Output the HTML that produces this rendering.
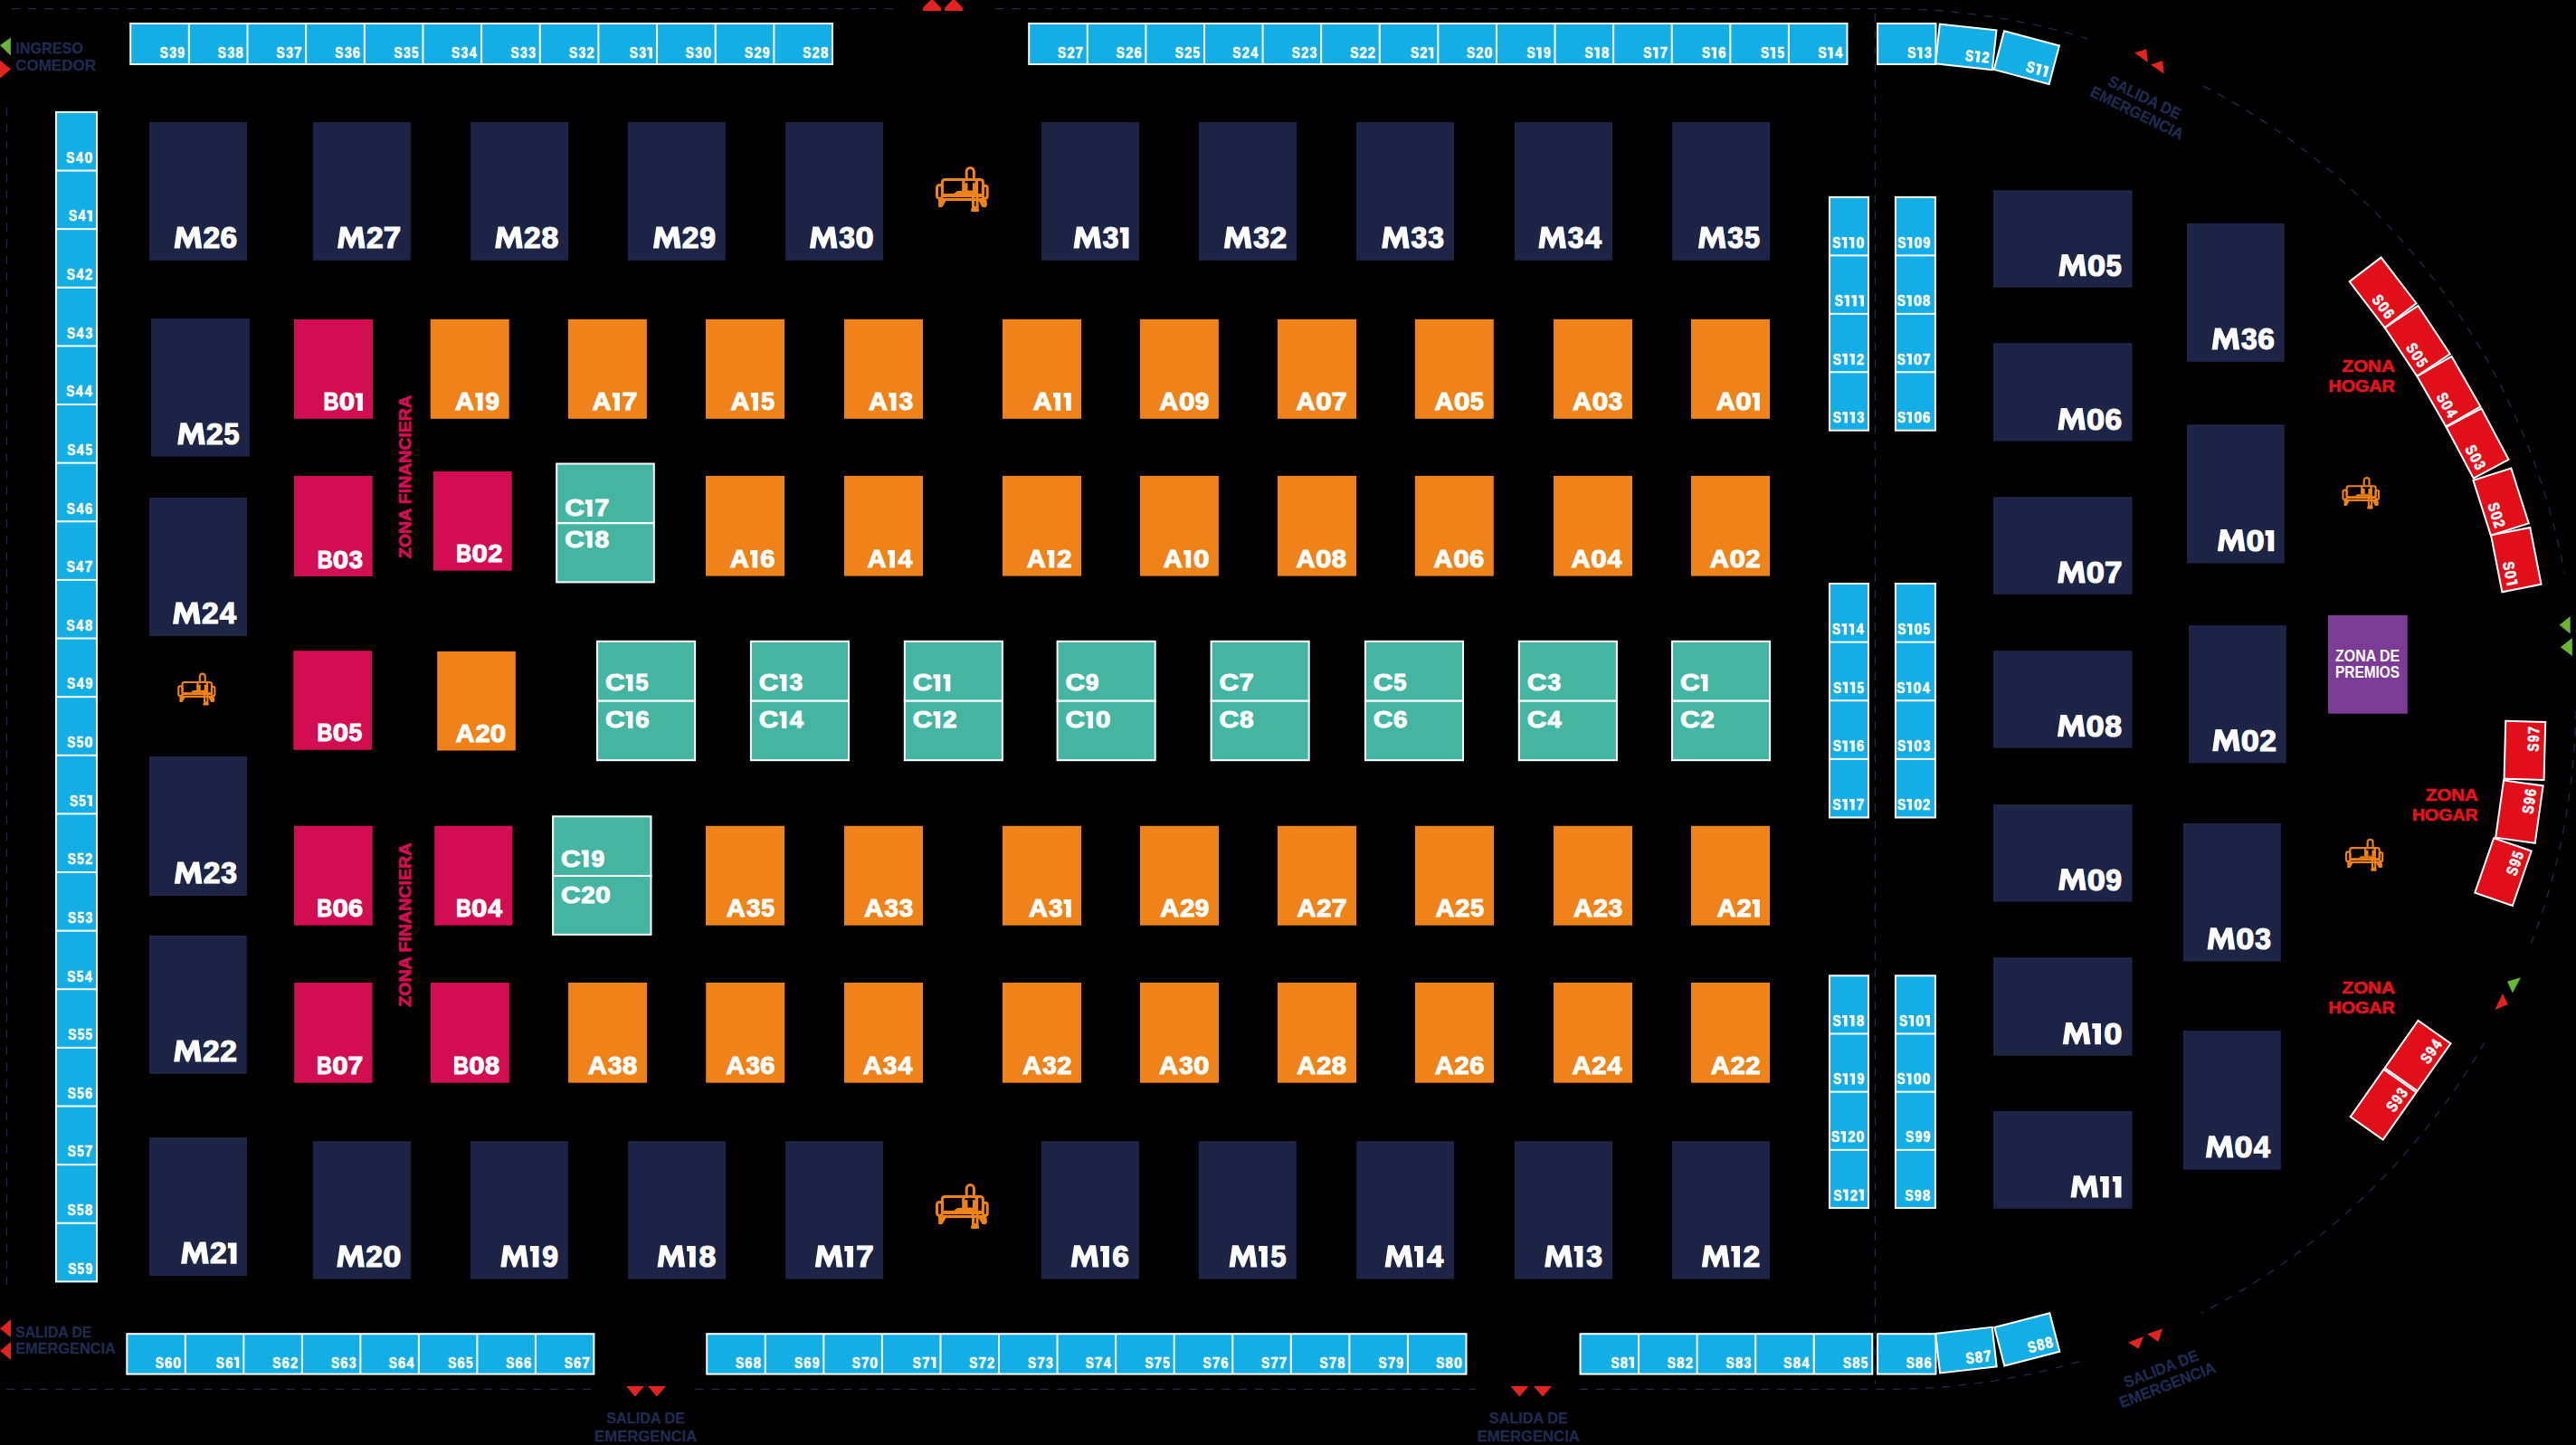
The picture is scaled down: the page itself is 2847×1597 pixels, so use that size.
<!DOCTYPE html>
<html><head><meta charset="utf-8"><style>
html,body{margin:0;padding:0;background:#000;width:2847px;height:1597px;overflow:hidden}
svg{display:block}
text{font-family:"Liberation Sans", sans-serif;font-weight:bold}
</style></head><body>
<svg width="2847" height="1597" viewBox="0 0 2847 1597">
<rect width="2847" height="1597" fill="#000"/>
<line x1="13" y1="9.5" x2="987" y2="9.5" stroke="#1F2A4D" stroke-width="1.25" stroke-dasharray="9.1 9.1" fill="none"/>
<line x1="1100" y1="9.5" x2="2084" y2="9.5" stroke="#1F2A4D" stroke-width="1.25" stroke-dasharray="9.1 9.1" fill="none"/>
<line x1="7.5" y1="119" x2="7.5" y2="1421" stroke="#1F2A4D" stroke-width="1.25" stroke-dasharray="9.1 9.1" fill="none"/>
<line x1="7" y1="1535.3" x2="653" y2="1535.3" stroke="#1F2A4D" stroke-width="1.25" stroke-dasharray="9.1 9.1" fill="none"/>
<line x1="768" y1="1535.3" x2="1631" y2="1535.3" stroke="#1F2A4D" stroke-width="1.25" stroke-dasharray="9.1 9.1" fill="none"/>
<line x1="1746" y1="1535.3" x2="2084" y2="1535.3" stroke="#1F2A4D" stroke-width="1.25" stroke-dasharray="9.1 9.1" fill="none"/>
<line x1="2072.4" y1="15" x2="2072.4" y2="1530" stroke="#1F2A4D" stroke-width="1.25" stroke-dasharray="9.1 9.1" fill="none"/>
<path d="M2084.0,9.5 A763,763 0 0 1 2307.1,42.8" stroke="#1F2A4D" stroke-width="1.25" stroke-dasharray="9.1 9.1" fill="none"/>
<path d="M2435.1,95.1 A763,763 0 0 1 2834.2,633.5" stroke="#1F2A4D" stroke-width="1.25" stroke-dasharray="9.1 9.1" fill="none"/>
<path d="M2846.9,785.8 A763,763 0 0 1 2797.7,1042.2" stroke="#1F2A4D" stroke-width="1.25" stroke-dasharray="9.1 9.1" fill="none"/>
<path d="M2746.1,1151.7 A763,763 0 0 1 2432.8,1451.1" stroke="#1F2A4D" stroke-width="1.25" stroke-dasharray="9.1 9.1" fill="none"/>
<path d="M2298.1,1504.8 A763,763 0 0 1 2084.0,1535.5" stroke="#1F2A4D" stroke-width="1.25" stroke-dasharray="9.1 9.1" fill="none"/>
<rect x="143.2" y="25.0" width="777.8" height="47.0" fill="#FFFFFF"/>
<rect x="145.20" y="27.0" width="62.65" height="43.0" fill="#12AEE5"/>
<g font-size="17.16" fill="#FFFFFF" stroke="#FFFFFF" stroke-width="0.60"><text x="176.73" y="64.10" textLength="9.08" lengthAdjust="spacingAndGlyphs">S</text><text x="187.24" y="64.10" textLength="7.70" lengthAdjust="spacingAndGlyphs">3</text><text x="196.24" y="64.10" textLength="7.72" lengthAdjust="spacingAndGlyphs">9</text></g>
<rect x="209.85" y="27.0" width="62.65" height="43.0" fill="#12AEE5"/>
<g font-size="17.16" fill="#FFFFFF" stroke="#FFFFFF" stroke-width="0.60"><text x="240.86" y="64.10" textLength="9.08" lengthAdjust="spacingAndGlyphs">S</text><text x="251.38" y="64.10" textLength="7.70" lengthAdjust="spacingAndGlyphs">3</text><text x="260.39" y="64.10" textLength="8.16" lengthAdjust="spacingAndGlyphs">8</text></g>
<rect x="274.50" y="27.0" width="62.65" height="43.0" fill="#12AEE5"/>
<g font-size="17.16" fill="#FFFFFF" stroke="#FFFFFF" stroke-width="0.60"><text x="305.62" y="64.10" textLength="9.08" lengthAdjust="spacingAndGlyphs">S</text><text x="316.13" y="64.10" textLength="7.70" lengthAdjust="spacingAndGlyphs">3</text><text x="324.96" y="64.10" textLength="8.46" lengthAdjust="spacingAndGlyphs">7</text></g>
<rect x="339.15" y="27.0" width="62.65" height="43.0" fill="#12AEE5"/>
<g font-size="17.16" fill="#FFFFFF" stroke="#FFFFFF" stroke-width="0.60"><text x="370.37" y="64.10" textLength="9.08" lengthAdjust="spacingAndGlyphs">S</text><text x="380.88" y="64.10" textLength="7.70" lengthAdjust="spacingAndGlyphs">3</text><text x="389.83" y="64.10" textLength="8.10" lengthAdjust="spacingAndGlyphs">6</text></g>
<rect x="403.80" y="27.0" width="62.65" height="43.0" fill="#12AEE5"/>
<g font-size="17.16" fill="#FFFFFF" stroke="#FFFFFF" stroke-width="0.60"><text x="435.43" y="64.10" textLength="9.08" lengthAdjust="spacingAndGlyphs">S</text><text x="445.95" y="64.10" textLength="7.70" lengthAdjust="spacingAndGlyphs">3</text><text x="455.02" y="64.10" textLength="7.40" lengthAdjust="spacingAndGlyphs">5</text></g>
<rect x="468.45" y="27.0" width="62.65" height="43.0" fill="#12AEE5"/>
<g font-size="17.16" fill="#FFFFFF" stroke="#FFFFFF" stroke-width="0.60"><text x="499.05" y="64.10" textLength="9.08" lengthAdjust="spacingAndGlyphs">S</text><text x="509.56" y="64.10" textLength="7.70" lengthAdjust="spacingAndGlyphs">3</text><text x="518.83" y="64.10" textLength="7.95" lengthAdjust="spacingAndGlyphs">4</text></g>
<rect x="533.10" y="27.0" width="62.65" height="43.0" fill="#12AEE5"/>
<g font-size="17.16" fill="#FFFFFF" stroke="#FFFFFF" stroke-width="0.60"><text x="564.47" y="64.10" textLength="9.08" lengthAdjust="spacingAndGlyphs">S</text><text x="574.99" y="64.10" textLength="7.70" lengthAdjust="spacingAndGlyphs">3</text><text x="584.15" y="64.10" textLength="7.70" lengthAdjust="spacingAndGlyphs">3</text></g>
<rect x="597.75" y="27.0" width="62.65" height="43.0" fill="#12AEE5"/>
<g font-size="17.16" fill="#FFFFFF" stroke="#FFFFFF" stroke-width="0.60"><text x="628.97" y="64.10" textLength="9.08" lengthAdjust="spacingAndGlyphs">S</text><text x="639.48" y="64.10" textLength="7.70" lengthAdjust="spacingAndGlyphs">3</text><text x="648.46" y="64.10" textLength="8.13" lengthAdjust="spacingAndGlyphs">2</text></g>
<rect x="662.40" y="27.0" width="62.65" height="43.0" fill="#12AEE5"/>
<g font-size="17.16" fill="#FFFFFF" stroke="#FFFFFF" stroke-width="0.60"><text x="695.74" y="64.10" textLength="9.08" lengthAdjust="spacingAndGlyphs">S</text><text x="706.25" y="64.10" textLength="7.70" lengthAdjust="spacingAndGlyphs">3</text><path stroke="none" d="M715.43,52.14H720.95V64.40H717.59V55.14H715.43Z"/></g>
<rect x="727.05" y="27.0" width="62.65" height="43.0" fill="#12AEE5"/>
<g font-size="17.16" fill="#FFFFFF" stroke="#FFFFFF" stroke-width="0.60"><text x="757.80" y="64.10" textLength="9.08" lengthAdjust="spacingAndGlyphs">S</text><text x="768.32" y="64.10" textLength="7.70" lengthAdjust="spacingAndGlyphs">3</text><text x="777.17" y="64.10" textLength="8.77" lengthAdjust="spacingAndGlyphs">0</text></g>
<rect x="791.70" y="27.0" width="62.65" height="43.0" fill="#12AEE5"/>
<g font-size="17.16" fill="#FFFFFF" stroke="#FFFFFF" stroke-width="0.60"><text x="823.07" y="64.10" textLength="9.08" lengthAdjust="spacingAndGlyphs">S</text><text x="833.40" y="64.10" textLength="8.13" lengthAdjust="spacingAndGlyphs">2</text><text x="842.74" y="64.10" textLength="7.72" lengthAdjust="spacingAndGlyphs">9</text></g>
<rect x="856.35" y="27.0" width="62.65" height="43.0" fill="#12AEE5"/>
<g font-size="17.16" fill="#FFFFFF" stroke="#FFFFFF" stroke-width="0.60"><text x="887.21" y="64.10" textLength="9.08" lengthAdjust="spacingAndGlyphs">S</text><text x="897.53" y="64.10" textLength="8.13" lengthAdjust="spacingAndGlyphs">2</text><text x="906.89" y="64.10" textLength="8.16" lengthAdjust="spacingAndGlyphs">8</text></g>
<rect x="1136.2" y="25.0" width="906.3" height="47.0" fill="#FFFFFF"/>
<rect x="1138.20" y="27.0" width="62.59" height="43.0" fill="#12AEE5"/>
<g font-size="17.16" fill="#FFFFFF" stroke="#FFFFFF" stroke-width="0.60"><text x="1169.10" y="64.10" textLength="9.08" lengthAdjust="spacingAndGlyphs">S</text><text x="1179.43" y="64.10" textLength="8.13" lengthAdjust="spacingAndGlyphs">2</text><text x="1188.60" y="64.10" textLength="8.46" lengthAdjust="spacingAndGlyphs">7</text></g>
<rect x="1202.79" y="27.0" width="62.59" height="43.0" fill="#12AEE5"/>
<g font-size="17.16" fill="#FFFFFF" stroke="#FFFFFF" stroke-width="0.60"><text x="1233.80" y="64.10" textLength="9.08" lengthAdjust="spacingAndGlyphs">S</text><text x="1244.13" y="64.10" textLength="8.13" lengthAdjust="spacingAndGlyphs">2</text><text x="1253.42" y="64.10" textLength="8.10" lengthAdjust="spacingAndGlyphs">6</text></g>
<rect x="1267.39" y="27.0" width="62.59" height="43.0" fill="#12AEE5"/>
<g font-size="17.16" fill="#FFFFFF" stroke="#FFFFFF" stroke-width="0.60"><text x="1298.81" y="64.10" textLength="9.08" lengthAdjust="spacingAndGlyphs">S</text><text x="1309.13" y="64.10" textLength="8.13" lengthAdjust="spacingAndGlyphs">2</text><text x="1318.55" y="64.10" textLength="7.40" lengthAdjust="spacingAndGlyphs">5</text></g>
<rect x="1331.98" y="27.0" width="62.59" height="43.0" fill="#12AEE5"/>
<g font-size="17.16" fill="#FFFFFF" stroke="#FFFFFF" stroke-width="0.60"><text x="1362.37" y="64.10" textLength="9.08" lengthAdjust="spacingAndGlyphs">S</text><text x="1372.69" y="64.10" textLength="8.13" lengthAdjust="spacingAndGlyphs">2</text><text x="1382.30" y="64.10" textLength="7.95" lengthAdjust="spacingAndGlyphs">4</text></g>
<rect x="1396.57" y="27.0" width="62.59" height="43.0" fill="#12AEE5"/>
<g font-size="17.16" fill="#FFFFFF" stroke="#FFFFFF" stroke-width="0.60"><text x="1427.73" y="64.10" textLength="9.08" lengthAdjust="spacingAndGlyphs">S</text><text x="1438.06" y="64.10" textLength="8.13" lengthAdjust="spacingAndGlyphs">2</text><text x="1447.56" y="64.10" textLength="7.70" lengthAdjust="spacingAndGlyphs">3</text></g>
<rect x="1461.16" y="27.0" width="62.59" height="43.0" fill="#12AEE5"/>
<g font-size="17.16" fill="#FFFFFF" stroke="#FFFFFF" stroke-width="0.60"><text x="1492.17" y="64.10" textLength="9.08" lengthAdjust="spacingAndGlyphs">S</text><text x="1502.50" y="64.10" textLength="8.13" lengthAdjust="spacingAndGlyphs">2</text><text x="1511.81" y="64.10" textLength="8.13" lengthAdjust="spacingAndGlyphs">2</text></g>
<rect x="1525.76" y="27.0" width="62.59" height="43.0" fill="#12AEE5"/>
<g font-size="17.16" fill="#FFFFFF" stroke="#FFFFFF" stroke-width="0.60"><text x="1558.88" y="64.10" textLength="9.08" lengthAdjust="spacingAndGlyphs">S</text><text x="1569.21" y="64.10" textLength="8.13" lengthAdjust="spacingAndGlyphs">2</text><path stroke="none" d="M1578.73,52.14H1584.25V64.40H1580.89V55.14H1578.73Z"/></g>
<rect x="1590.35" y="27.0" width="62.59" height="43.0" fill="#12AEE5"/>
<g font-size="17.16" fill="#FFFFFF" stroke="#FFFFFF" stroke-width="0.60"><text x="1620.89" y="64.10" textLength="9.08" lengthAdjust="spacingAndGlyphs">S</text><text x="1631.22" y="64.10" textLength="8.13" lengthAdjust="spacingAndGlyphs">2</text><text x="1640.42" y="64.10" textLength="8.77" lengthAdjust="spacingAndGlyphs">0</text></g>
<rect x="1654.94" y="27.0" width="62.59" height="43.0" fill="#12AEE5"/>
<g font-size="17.16" fill="#FFFFFF" stroke="#FFFFFF" stroke-width="0.60"><text x="1687.54" y="64.10" textLength="9.08" lengthAdjust="spacingAndGlyphs">S</text><path stroke="none" d="M1698.07,52.14H1703.59V64.40H1700.23V55.14H1698.07Z"/><text x="1705.93" y="64.10" textLength="7.72" lengthAdjust="spacingAndGlyphs">9</text></g>
<rect x="1719.54" y="27.0" width="62.59" height="43.0" fill="#12AEE5"/>
<g font-size="17.16" fill="#FFFFFF" stroke="#FFFFFF" stroke-width="0.60"><text x="1751.61" y="64.10" textLength="9.08" lengthAdjust="spacingAndGlyphs">S</text><path stroke="none" d="M1762.15,52.14H1767.67V64.40H1764.31V55.14H1762.15Z"/><text x="1770.02" y="64.10" textLength="8.16" lengthAdjust="spacingAndGlyphs">8</text></g>
<rect x="1784.13" y="27.0" width="62.59" height="43.0" fill="#12AEE5"/>
<g font-size="17.16" fill="#FFFFFF" stroke="#FFFFFF" stroke-width="0.60"><text x="1816.31" y="64.10" textLength="9.08" lengthAdjust="spacingAndGlyphs">S</text><path stroke="none" d="M1826.84,52.14H1832.36V64.40H1829.00V55.14H1826.84Z"/><text x="1834.53" y="64.10" textLength="8.46" lengthAdjust="spacingAndGlyphs">7</text></g>
<rect x="1848.72" y="27.0" width="62.59" height="43.0" fill="#12AEE5"/>
<g font-size="17.16" fill="#FFFFFF" stroke="#FFFFFF" stroke-width="0.60"><text x="1881.01" y="64.10" textLength="9.08" lengthAdjust="spacingAndGlyphs">S</text><path stroke="none" d="M1891.54,52.14H1897.06V64.40H1893.70V55.14H1891.54Z"/><text x="1899.34" y="64.10" textLength="8.10" lengthAdjust="spacingAndGlyphs">6</text></g>
<rect x="1913.31" y="27.0" width="62.59" height="43.0" fill="#12AEE5"/>
<g font-size="17.16" fill="#FFFFFF" stroke="#FFFFFF" stroke-width="0.60"><text x="1946.01" y="64.10" textLength="9.08" lengthAdjust="spacingAndGlyphs">S</text><path stroke="none" d="M1956.54,52.14H1962.06V64.40H1958.70V55.14H1956.54Z"/><text x="1964.47" y="64.10" textLength="7.40" lengthAdjust="spacingAndGlyphs">5</text></g>
<rect x="1977.91" y="27.0" width="62.59" height="43.0" fill="#12AEE5"/>
<g font-size="17.16" fill="#FFFFFF" stroke="#FFFFFF" stroke-width="0.60"><text x="2009.57" y="64.10" textLength="9.08" lengthAdjust="spacingAndGlyphs">S</text><path stroke="none" d="M2020.10,52.14H2025.62V64.40H2022.26V55.14H2020.10Z"/><text x="2028.23" y="64.10" textLength="7.95" lengthAdjust="spacingAndGlyphs">4</text></g>
<rect x="2074.1" y="25.0" width="66.4" height="47.0" fill="#FFFFFF"/>
<rect x="2076.10" y="27.0" width="62.40" height="43.0" fill="#12AEE5"/>
<g font-size="17.16" fill="#FFFFFF" stroke="#FFFFFF" stroke-width="0.60"><text x="2108.35" y="64.10" textLength="9.08" lengthAdjust="spacingAndGlyphs">S</text><path stroke="none" d="M2118.88,52.14H2124.40V64.40H2121.04V55.14H2118.88Z"/><text x="2126.90" y="64.10" textLength="7.70" lengthAdjust="spacingAndGlyphs">3</text></g>
<rect x="61.0" y="122.9" width="47.0" height="1294.5" fill="#FFFFFF"/>
<rect x="63.0" y="124.90" width="43.0" height="62.62" fill="#12AEE5"/>
<g font-size="17.16" fill="#FFFFFF" stroke="#FFFFFF" stroke-width="0.60"><text x="73.33" y="179.82" textLength="9.08" lengthAdjust="spacingAndGlyphs">S</text><text x="83.95" y="179.82" textLength="7.95" lengthAdjust="spacingAndGlyphs">4</text><text x="93.47" y="179.82" textLength="8.77" lengthAdjust="spacingAndGlyphs">0</text></g>
<rect x="63.0" y="189.53" width="43.0" height="62.62" fill="#12AEE5"/>
<g font-size="17.16" fill="#FFFFFF" stroke="#FFFFFF" stroke-width="0.60"><text x="75.91" y="244.45" textLength="9.08" lengthAdjust="spacingAndGlyphs">S</text><text x="86.53" y="244.45" textLength="7.95" lengthAdjust="spacingAndGlyphs">4</text><path stroke="none" d="M96.38,232.49H101.90V244.75H98.54V235.49H96.38Z"/></g>
<rect x="63.0" y="254.15" width="43.0" height="62.62" fill="#12AEE5"/>
<g font-size="17.16" fill="#FFFFFF" stroke="#FFFFFF" stroke-width="0.60"><text x="73.79" y="309.07" textLength="9.08" lengthAdjust="spacingAndGlyphs">S</text><text x="84.41" y="309.07" textLength="7.95" lengthAdjust="spacingAndGlyphs">4</text><text x="94.06" y="309.07" textLength="8.13" lengthAdjust="spacingAndGlyphs">2</text></g>
<rect x="63.0" y="318.77" width="43.0" height="62.62" fill="#12AEE5"/>
<g font-size="17.16" fill="#FFFFFF" stroke="#FFFFFF" stroke-width="0.60"><text x="73.95" y="373.70" textLength="9.08" lengthAdjust="spacingAndGlyphs">S</text><text x="84.57" y="373.70" textLength="7.95" lengthAdjust="spacingAndGlyphs">4</text><text x="94.40" y="373.70" textLength="7.70" lengthAdjust="spacingAndGlyphs">3</text></g>
<rect x="63.0" y="383.40" width="43.0" height="62.62" fill="#12AEE5"/>
<g font-size="17.16" fill="#FFFFFF" stroke="#FFFFFF" stroke-width="0.60"><text x="73.18" y="438.32" textLength="9.08" lengthAdjust="spacingAndGlyphs">S</text><text x="83.79" y="438.32" textLength="7.95" lengthAdjust="spacingAndGlyphs">4</text><text x="93.73" y="438.32" textLength="7.95" lengthAdjust="spacingAndGlyphs">4</text></g>
<rect x="63.0" y="448.02" width="43.0" height="62.62" fill="#12AEE5"/>
<g font-size="17.16" fill="#FFFFFF" stroke="#FFFFFF" stroke-width="0.60"><text x="74.21" y="502.95" textLength="9.08" lengthAdjust="spacingAndGlyphs">S</text><text x="84.82" y="502.95" textLength="7.95" lengthAdjust="spacingAndGlyphs">4</text><text x="94.57" y="502.95" textLength="7.40" lengthAdjust="spacingAndGlyphs">5</text></g>
<rect x="63.0" y="512.65" width="43.0" height="62.62" fill="#12AEE5"/>
<g font-size="17.16" fill="#FFFFFF" stroke="#FFFFFF" stroke-width="0.60"><text x="73.79" y="567.58" textLength="9.08" lengthAdjust="spacingAndGlyphs">S</text><text x="84.41" y="567.58" textLength="7.95" lengthAdjust="spacingAndGlyphs">4</text><text x="94.03" y="567.58" textLength="8.10" lengthAdjust="spacingAndGlyphs">6</text></g>
<rect x="63.0" y="577.27" width="43.0" height="62.62" fill="#12AEE5"/>
<g font-size="17.16" fill="#FFFFFF" stroke="#FFFFFF" stroke-width="0.60"><text x="73.69" y="632.20" textLength="9.08" lengthAdjust="spacingAndGlyphs">S</text><text x="84.31" y="632.20" textLength="7.95" lengthAdjust="spacingAndGlyphs">4</text><text x="93.81" y="632.20" textLength="8.46" lengthAdjust="spacingAndGlyphs">7</text></g>
<rect x="63.0" y="641.90" width="43.0" height="62.62" fill="#12AEE5"/>
<g font-size="17.16" fill="#FFFFFF" stroke="#FFFFFF" stroke-width="0.60"><text x="73.59" y="696.83" textLength="9.08" lengthAdjust="spacingAndGlyphs">S</text><text x="84.20" y="696.83" textLength="7.95" lengthAdjust="spacingAndGlyphs">4</text><text x="93.89" y="696.83" textLength="8.16" lengthAdjust="spacingAndGlyphs">8</text></g>
<rect x="63.0" y="706.52" width="43.0" height="62.62" fill="#12AEE5"/>
<g font-size="17.16" fill="#FFFFFF" stroke="#FFFFFF" stroke-width="0.60"><text x="74.10" y="761.45" textLength="9.08" lengthAdjust="spacingAndGlyphs">S</text><text x="84.72" y="761.45" textLength="7.95" lengthAdjust="spacingAndGlyphs">4</text><text x="94.39" y="761.45" textLength="7.72" lengthAdjust="spacingAndGlyphs">9</text></g>
<rect x="63.0" y="771.15" width="43.0" height="62.62" fill="#12AEE5"/>
<g font-size="17.16" fill="#FFFFFF" stroke="#FFFFFF" stroke-width="0.60"><text x="74.36" y="826.08" textLength="9.08" lengthAdjust="spacingAndGlyphs">S</text><text x="84.79" y="826.08" textLength="7.40" lengthAdjust="spacingAndGlyphs">5</text><text x="93.47" y="826.08" textLength="8.77" lengthAdjust="spacingAndGlyphs">0</text></g>
<rect x="63.0" y="835.77" width="43.0" height="62.62" fill="#12AEE5"/>
<g font-size="17.16" fill="#FFFFFF" stroke="#FFFFFF" stroke-width="0.60"><text x="76.94" y="890.70" textLength="9.08" lengthAdjust="spacingAndGlyphs">S</text><text x="87.37" y="890.70" textLength="7.40" lengthAdjust="spacingAndGlyphs">5</text><path stroke="none" d="M96.38,878.74H101.90V891.00H98.54V881.74H96.38Z"/></g>
<rect x="63.0" y="900.40" width="43.0" height="62.62" fill="#12AEE5"/>
<g font-size="17.16" fill="#FFFFFF" stroke="#FFFFFF" stroke-width="0.60"><text x="74.83" y="955.33" textLength="9.08" lengthAdjust="spacingAndGlyphs">S</text><text x="85.25" y="955.33" textLength="7.40" lengthAdjust="spacingAndGlyphs">5</text><text x="94.06" y="955.33" textLength="8.13" lengthAdjust="spacingAndGlyphs">2</text></g>
<rect x="63.0" y="965.02" width="43.0" height="62.62" fill="#12AEE5"/>
<g font-size="17.16" fill="#FFFFFF" stroke="#FFFFFF" stroke-width="0.60"><text x="74.98" y="1019.95" textLength="9.08" lengthAdjust="spacingAndGlyphs">S</text><text x="85.40" y="1019.95" textLength="7.40" lengthAdjust="spacingAndGlyphs">5</text><text x="94.40" y="1019.95" textLength="7.70" lengthAdjust="spacingAndGlyphs">3</text></g>
<rect x="63.0" y="1029.65" width="43.0" height="62.62" fill="#12AEE5"/>
<g font-size="17.16" fill="#FFFFFF" stroke="#FFFFFF" stroke-width="0.60"><text x="74.21" y="1084.58" textLength="9.08" lengthAdjust="spacingAndGlyphs">S</text><text x="84.63" y="1084.58" textLength="7.40" lengthAdjust="spacingAndGlyphs">5</text><text x="93.73" y="1084.58" textLength="7.95" lengthAdjust="spacingAndGlyphs">4</text></g>
<rect x="63.0" y="1094.28" width="43.0" height="62.62" fill="#12AEE5"/>
<g font-size="17.16" fill="#FFFFFF" stroke="#FFFFFF" stroke-width="0.60"><text x="75.24" y="1149.20" textLength="9.08" lengthAdjust="spacingAndGlyphs">S</text><text x="85.66" y="1149.20" textLength="7.40" lengthAdjust="spacingAndGlyphs">5</text><text x="94.57" y="1149.20" textLength="7.40" lengthAdjust="spacingAndGlyphs">5</text></g>
<rect x="63.0" y="1158.90" width="43.0" height="62.62" fill="#12AEE5"/>
<g font-size="17.16" fill="#FFFFFF" stroke="#FFFFFF" stroke-width="0.60"><text x="74.83" y="1213.83" textLength="9.08" lengthAdjust="spacingAndGlyphs">S</text><text x="85.25" y="1213.83" textLength="7.40" lengthAdjust="spacingAndGlyphs">5</text><text x="94.03" y="1213.83" textLength="8.10" lengthAdjust="spacingAndGlyphs">6</text></g>
<rect x="63.0" y="1223.53" width="43.0" height="62.62" fill="#12AEE5"/>
<g font-size="17.16" fill="#FFFFFF" stroke="#FFFFFF" stroke-width="0.60"><text x="74.72" y="1278.45" textLength="9.08" lengthAdjust="spacingAndGlyphs">S</text><text x="85.15" y="1278.45" textLength="7.40" lengthAdjust="spacingAndGlyphs">5</text><text x="93.81" y="1278.45" textLength="8.46" lengthAdjust="spacingAndGlyphs">7</text></g>
<rect x="63.0" y="1288.15" width="43.0" height="62.62" fill="#12AEE5"/>
<g font-size="17.16" fill="#FFFFFF" stroke="#FFFFFF" stroke-width="0.60"><text x="74.62" y="1343.08" textLength="9.08" lengthAdjust="spacingAndGlyphs">S</text><text x="85.04" y="1343.08" textLength="7.40" lengthAdjust="spacingAndGlyphs">5</text><text x="93.89" y="1343.08" textLength="8.16" lengthAdjust="spacingAndGlyphs">8</text></g>
<rect x="63.0" y="1352.78" width="43.0" height="62.62" fill="#12AEE5"/>
<g font-size="17.16" fill="#FFFFFF" stroke="#FFFFFF" stroke-width="0.60"><text x="75.14" y="1407.70" textLength="9.08" lengthAdjust="spacingAndGlyphs">S</text><text x="85.56" y="1407.70" textLength="7.40" lengthAdjust="spacingAndGlyphs">5</text><text x="94.39" y="1407.70" textLength="7.72" lengthAdjust="spacingAndGlyphs">9</text></g>
<rect x="139.3" y="1473.2" width="518.1" height="46.4" fill="#FFFFFF"/>
<rect x="141.30" y="1475.2" width="62.51" height="42.4" fill="#12AEE5"/>
<g font-size="17.16" fill="#FFFFFF" stroke="#FFFFFF" stroke-width="0.60"><text x="171.76" y="1511.70" textLength="9.08" lengthAdjust="spacingAndGlyphs">S</text><text x="182.06" y="1511.70" textLength="8.10" lengthAdjust="spacingAndGlyphs">6</text><text x="191.29" y="1511.70" textLength="8.77" lengthAdjust="spacingAndGlyphs">0</text></g>
<rect x="205.81" y="1475.2" width="62.51" height="42.4" fill="#12AEE5"/>
<g font-size="17.16" fill="#FFFFFF" stroke="#FFFFFF" stroke-width="0.60"><text x="238.86" y="1511.70" textLength="9.08" lengthAdjust="spacingAndGlyphs">S</text><text x="249.16" y="1511.70" textLength="8.10" lengthAdjust="spacingAndGlyphs">6</text><path stroke="none" d="M258.70,1499.74H264.22V1512.00H260.86V1502.74H258.70Z"/></g>
<rect x="270.32" y="1475.2" width="62.51" height="42.4" fill="#12AEE5"/>
<g font-size="17.16" fill="#FFFFFF" stroke="#FFFFFF" stroke-width="0.60"><text x="301.25" y="1511.70" textLength="9.08" lengthAdjust="spacingAndGlyphs">S</text><text x="311.55" y="1511.70" textLength="8.10" lengthAdjust="spacingAndGlyphs">6</text><text x="320.89" y="1511.70" textLength="8.13" lengthAdjust="spacingAndGlyphs">2</text></g>
<rect x="334.84" y="1475.2" width="62.51" height="42.4" fill="#12AEE5"/>
<g font-size="17.16" fill="#FFFFFF" stroke="#FFFFFF" stroke-width="0.60"><text x="365.92" y="1511.70" textLength="9.08" lengthAdjust="spacingAndGlyphs">S</text><text x="376.22" y="1511.70" textLength="8.10" lengthAdjust="spacingAndGlyphs">6</text><text x="385.75" y="1511.70" textLength="7.70" lengthAdjust="spacingAndGlyphs">3</text></g>
<rect x="399.35" y="1475.2" width="62.51" height="42.4" fill="#12AEE5"/>
<g font-size="17.16" fill="#FFFFFF" stroke="#FFFFFF" stroke-width="0.60"><text x="429.66" y="1511.70" textLength="9.08" lengthAdjust="spacingAndGlyphs">S</text><text x="439.96" y="1511.70" textLength="8.10" lengthAdjust="spacingAndGlyphs">6</text><text x="449.59" y="1511.70" textLength="7.95" lengthAdjust="spacingAndGlyphs">4</text></g>
<rect x="463.86" y="1475.2" width="62.51" height="42.4" fill="#12AEE5"/>
<g font-size="17.16" fill="#FFFFFF" stroke="#FFFFFF" stroke-width="0.60"><text x="495.20" y="1511.70" textLength="9.08" lengthAdjust="spacingAndGlyphs">S</text><text x="505.50" y="1511.70" textLength="8.10" lengthAdjust="spacingAndGlyphs">6</text><text x="514.94" y="1511.70" textLength="7.40" lengthAdjust="spacingAndGlyphs">5</text></g>
<rect x="528.38" y="1475.2" width="62.51" height="42.4" fill="#12AEE5"/>
<g font-size="17.16" fill="#FFFFFF" stroke="#FFFFFF" stroke-width="0.60"><text x="559.30" y="1511.70" textLength="9.08" lengthAdjust="spacingAndGlyphs">S</text><text x="569.60" y="1511.70" textLength="8.10" lengthAdjust="spacingAndGlyphs">6</text><text x="578.92" y="1511.70" textLength="8.10" lengthAdjust="spacingAndGlyphs">6</text></g>
<rect x="592.89" y="1475.2" width="62.51" height="42.4" fill="#12AEE5"/>
<g font-size="17.16" fill="#FFFFFF" stroke="#FFFFFF" stroke-width="0.60"><text x="623.71" y="1511.70" textLength="9.08" lengthAdjust="spacingAndGlyphs">S</text><text x="634.01" y="1511.70" textLength="8.10" lengthAdjust="spacingAndGlyphs">6</text><text x="643.21" y="1511.70" textLength="8.46" lengthAdjust="spacingAndGlyphs">7</text></g>
<rect x="780.2" y="1473.2" width="841.3" height="46.4" fill="#FFFFFF"/>
<rect x="782.20" y="1475.2" width="62.56" height="42.4" fill="#12AEE5"/>
<g font-size="17.16" fill="#FFFFFF" stroke="#FFFFFF" stroke-width="0.60"><text x="812.97" y="1511.70" textLength="9.08" lengthAdjust="spacingAndGlyphs">S</text><text x="823.27" y="1511.70" textLength="8.10" lengthAdjust="spacingAndGlyphs">6</text><text x="832.65" y="1511.70" textLength="8.16" lengthAdjust="spacingAndGlyphs">8</text></g>
<rect x="846.76" y="1475.2" width="62.56" height="42.4" fill="#12AEE5"/>
<g font-size="17.16" fill="#FFFFFF" stroke="#FFFFFF" stroke-width="0.60"><text x="878.05" y="1511.70" textLength="9.08" lengthAdjust="spacingAndGlyphs">S</text><text x="888.35" y="1511.70" textLength="8.10" lengthAdjust="spacingAndGlyphs">6</text><text x="897.71" y="1511.70" textLength="7.72" lengthAdjust="spacingAndGlyphs">9</text></g>
<rect x="911.32" y="1475.2" width="62.56" height="42.4" fill="#12AEE5"/>
<g font-size="17.16" fill="#FFFFFF" stroke="#FFFFFF" stroke-width="0.60"><text x="941.73" y="1511.70" textLength="9.08" lengthAdjust="spacingAndGlyphs">S</text><text x="951.91" y="1511.70" textLength="8.46" lengthAdjust="spacingAndGlyphs">7</text><text x="961.36" y="1511.70" textLength="8.77" lengthAdjust="spacingAndGlyphs">0</text></g>
<rect x="975.88" y="1475.2" width="62.56" height="42.4" fill="#12AEE5"/>
<g font-size="17.16" fill="#FFFFFF" stroke="#FFFFFF" stroke-width="0.60"><text x="1008.87" y="1511.70" textLength="9.08" lengthAdjust="spacingAndGlyphs">S</text><text x="1019.05" y="1511.70" textLength="8.46" lengthAdjust="spacingAndGlyphs">7</text><path stroke="none" d="M1028.83,1499.74H1034.35V1512.00H1030.99V1502.74H1028.83Z"/></g>
<rect x="1040.45" y="1475.2" width="62.56" height="42.4" fill="#12AEE5"/>
<g font-size="17.16" fill="#FFFFFF" stroke="#FFFFFF" stroke-width="0.60"><text x="1071.32" y="1511.70" textLength="9.08" lengthAdjust="spacingAndGlyphs">S</text><text x="1081.50" y="1511.70" textLength="8.46" lengthAdjust="spacingAndGlyphs">7</text><text x="1091.06" y="1511.70" textLength="8.13" lengthAdjust="spacingAndGlyphs">2</text></g>
<rect x="1105.01" y="1475.2" width="62.56" height="42.4" fill="#12AEE5"/>
<g font-size="17.16" fill="#FFFFFF" stroke="#FFFFFF" stroke-width="0.60"><text x="1136.03" y="1511.70" textLength="9.08" lengthAdjust="spacingAndGlyphs">S</text><text x="1146.21" y="1511.70" textLength="8.46" lengthAdjust="spacingAndGlyphs">7</text><text x="1155.97" y="1511.70" textLength="7.70" lengthAdjust="spacingAndGlyphs">3</text></g>
<rect x="1169.57" y="1475.2" width="62.56" height="42.4" fill="#12AEE5"/>
<g font-size="17.16" fill="#FFFFFF" stroke="#FFFFFF" stroke-width="0.60"><text x="1199.82" y="1511.70" textLength="9.08" lengthAdjust="spacingAndGlyphs">S</text><text x="1210.00" y="1511.70" textLength="8.46" lengthAdjust="spacingAndGlyphs">7</text><text x="1219.86" y="1511.70" textLength="7.95" lengthAdjust="spacingAndGlyphs">4</text></g>
<rect x="1234.13" y="1475.2" width="62.56" height="42.4" fill="#12AEE5"/>
<g font-size="17.16" fill="#FFFFFF" stroke="#FFFFFF" stroke-width="0.60"><text x="1265.42" y="1511.70" textLength="9.08" lengthAdjust="spacingAndGlyphs">S</text><text x="1275.59" y="1511.70" textLength="8.46" lengthAdjust="spacingAndGlyphs">7</text><text x="1285.26" y="1511.70" textLength="7.40" lengthAdjust="spacingAndGlyphs">5</text></g>
<rect x="1298.69" y="1475.2" width="62.56" height="42.4" fill="#12AEE5"/>
<g font-size="17.16" fill="#FFFFFF" stroke="#FFFFFF" stroke-width="0.60"><text x="1329.56" y="1511.70" textLength="9.08" lengthAdjust="spacingAndGlyphs">S</text><text x="1339.74" y="1511.70" textLength="8.46" lengthAdjust="spacingAndGlyphs">7</text><text x="1349.28" y="1511.70" textLength="8.10" lengthAdjust="spacingAndGlyphs">6</text></g>
<rect x="1363.25" y="1475.2" width="62.56" height="42.4" fill="#12AEE5"/>
<g font-size="17.16" fill="#FFFFFF" stroke="#FFFFFF" stroke-width="0.60"><text x="1394.02" y="1511.70" textLength="9.08" lengthAdjust="spacingAndGlyphs">S</text><text x="1404.20" y="1511.70" textLength="8.46" lengthAdjust="spacingAndGlyphs">7</text><text x="1413.62" y="1511.70" textLength="8.46" lengthAdjust="spacingAndGlyphs">7</text></g>
<rect x="1427.82" y="1475.2" width="62.56" height="42.4" fill="#12AEE5"/>
<g font-size="17.16" fill="#FFFFFF" stroke="#FFFFFF" stroke-width="0.60"><text x="1458.48" y="1511.70" textLength="9.08" lengthAdjust="spacingAndGlyphs">S</text><text x="1468.66" y="1511.70" textLength="8.46" lengthAdjust="spacingAndGlyphs">7</text><text x="1478.27" y="1511.70" textLength="8.16" lengthAdjust="spacingAndGlyphs">8</text></g>
<rect x="1492.38" y="1475.2" width="62.56" height="42.4" fill="#12AEE5"/>
<g font-size="17.16" fill="#FFFFFF" stroke="#FFFFFF" stroke-width="0.60"><text x="1523.56" y="1511.70" textLength="9.08" lengthAdjust="spacingAndGlyphs">S</text><text x="1533.74" y="1511.70" textLength="8.46" lengthAdjust="spacingAndGlyphs">7</text><text x="1543.33" y="1511.70" textLength="7.72" lengthAdjust="spacingAndGlyphs">9</text></g>
<rect x="1556.94" y="1475.2" width="62.56" height="42.4" fill="#12AEE5"/>
<g font-size="17.16" fill="#FFFFFF" stroke="#FFFFFF" stroke-width="0.60"><text x="1587.24" y="1511.70" textLength="9.08" lengthAdjust="spacingAndGlyphs">S</text><text x="1597.61" y="1511.70" textLength="8.16" lengthAdjust="spacingAndGlyphs">8</text><text x="1606.97" y="1511.70" textLength="8.77" lengthAdjust="spacingAndGlyphs">0</text></g>
<rect x="1745.5" y="1473.2" width="324.8" height="46.4" fill="#FFFFFF"/>
<rect x="1747.50" y="1475.2" width="62.56" height="42.4" fill="#12AEE5"/>
<g font-size="17.16" fill="#FFFFFF" stroke="#FFFFFF" stroke-width="0.60"><text x="1780.38" y="1511.70" textLength="9.08" lengthAdjust="spacingAndGlyphs">S</text><text x="1790.75" y="1511.70" textLength="8.16" lengthAdjust="spacingAndGlyphs">8</text><path stroke="none" d="M1800.44,1499.74H1805.96V1512.00H1802.60V1502.74H1800.44Z"/></g>
<rect x="1812.06" y="1475.2" width="62.56" height="42.4" fill="#12AEE5"/>
<g font-size="17.16" fill="#FFFFFF" stroke="#FFFFFF" stroke-width="0.60"><text x="1842.83" y="1511.70" textLength="9.08" lengthAdjust="spacingAndGlyphs">S</text><text x="1853.19" y="1511.70" textLength="8.16" lengthAdjust="spacingAndGlyphs">8</text><text x="1862.68" y="1511.70" textLength="8.13" lengthAdjust="spacingAndGlyphs">2</text></g>
<rect x="1876.62" y="1475.2" width="62.56" height="42.4" fill="#12AEE5"/>
<g font-size="17.16" fill="#FFFFFF" stroke="#FFFFFF" stroke-width="0.60"><text x="1907.54" y="1511.70" textLength="9.08" lengthAdjust="spacingAndGlyphs">S</text><text x="1917.91" y="1511.70" textLength="8.16" lengthAdjust="spacingAndGlyphs">8</text><text x="1927.58" y="1511.70" textLength="7.70" lengthAdjust="spacingAndGlyphs">3</text></g>
<rect x="1941.18" y="1475.2" width="62.56" height="42.4" fill="#12AEE5"/>
<g font-size="17.16" fill="#FFFFFF" stroke="#FFFFFF" stroke-width="0.60"><text x="1971.33" y="1511.70" textLength="9.08" lengthAdjust="spacingAndGlyphs">S</text><text x="1981.70" y="1511.70" textLength="8.16" lengthAdjust="spacingAndGlyphs">8</text><text x="1991.47" y="1511.70" textLength="7.95" lengthAdjust="spacingAndGlyphs">4</text></g>
<rect x="2005.74" y="1475.2" width="62.56" height="42.4" fill="#12AEE5"/>
<g font-size="17.16" fill="#FFFFFF" stroke="#FFFFFF" stroke-width="0.60"><text x="2036.92" y="1511.70" textLength="9.08" lengthAdjust="spacingAndGlyphs">S</text><text x="2047.29" y="1511.70" textLength="8.16" lengthAdjust="spacingAndGlyphs">8</text><text x="2056.87" y="1511.70" textLength="7.40" lengthAdjust="spacingAndGlyphs">5</text></g>
<rect x="2074.1" y="1473.2" width="66.4" height="46.4" fill="#FFFFFF"/>
<rect x="2076.10" y="1475.2" width="62.40" height="42.4" fill="#12AEE5"/>
<g font-size="17.16" fill="#FFFFFF" stroke="#FFFFFF" stroke-width="0.60"><text x="2106.71" y="1511.70" textLength="9.08" lengthAdjust="spacingAndGlyphs">S</text><text x="2117.07" y="1511.70" textLength="8.16" lengthAdjust="spacingAndGlyphs">8</text><text x="2126.53" y="1511.70" textLength="8.10" lengthAdjust="spacingAndGlyphs">6</text></g>
<rect x="2021.0" y="216.9" width="45.0" height="259.8" fill="#FFFFFF"/>
<rect x="2023.0" y="218.90" width="41.0" height="62.45" fill="#12AEE5"/>
<g font-size="17.16" fill="#FFFFFF" stroke="#FFFFFF" stroke-width="0.60"><text x="2025.19" y="273.85" textLength="9.08" lengthAdjust="spacingAndGlyphs">S</text><path stroke="none" d="M2035.72,261.89H2041.24V274.15H2037.88V264.89H2035.72Z"/><path stroke="none" d="M2043.76,261.89H2049.28V274.15H2045.92V264.89H2043.76Z"/><text x="2051.47" y="273.85" textLength="8.77" lengthAdjust="spacingAndGlyphs">0</text></g>
<rect x="2023.0" y="283.35" width="41.0" height="62.45" fill="#12AEE5"/>
<g font-size="17.16" fill="#FFFFFF" stroke="#FFFFFF" stroke-width="0.60"><text x="2027.77" y="338.30" textLength="9.08" lengthAdjust="spacingAndGlyphs">S</text><path stroke="none" d="M2038.30,326.34H2043.82V338.60H2040.46V329.34H2038.30Z"/><path stroke="none" d="M2046.34,326.34H2051.86V338.60H2048.50V329.34H2046.34Z"/><path stroke="none" d="M2054.38,326.34H2059.90V338.60H2056.54V329.34H2054.38Z"/></g>
<rect x="2023.0" y="347.80" width="41.0" height="62.45" fill="#12AEE5"/>
<g font-size="17.16" fill="#FFFFFF" stroke="#FFFFFF" stroke-width="0.60"><text x="2025.65" y="402.75" textLength="9.08" lengthAdjust="spacingAndGlyphs">S</text><path stroke="none" d="M2036.18,390.79H2041.70V403.05H2038.34V393.79H2036.18Z"/><path stroke="none" d="M2044.22,390.79H2049.74V403.05H2046.38V393.79H2044.22Z"/><text x="2052.06" y="402.75" textLength="8.13" lengthAdjust="spacingAndGlyphs">2</text></g>
<rect x="2023.0" y="412.25" width="41.0" height="62.45" fill="#12AEE5"/>
<g font-size="17.16" fill="#FFFFFF" stroke="#FFFFFF" stroke-width="0.60"><text x="2025.81" y="467.20" textLength="9.08" lengthAdjust="spacingAndGlyphs">S</text><path stroke="none" d="M2036.34,455.24H2041.86V467.50H2038.50V458.24H2036.34Z"/><path stroke="none" d="M2044.38,455.24H2049.90V467.50H2046.54V458.24H2044.38Z"/><text x="2052.40" y="467.20" textLength="7.70" lengthAdjust="spacingAndGlyphs">3</text></g>
<rect x="2093.9" y="216.9" width="46.0" height="259.8" fill="#FFFFFF"/>
<rect x="2095.9" y="218.90" width="42.0" height="62.45" fill="#12AEE5"/>
<g font-size="17.16" fill="#FFFFFF" stroke="#FFFFFF" stroke-width="0.60"><text x="2097.22" y="273.85" textLength="9.08" lengthAdjust="spacingAndGlyphs">S</text><path stroke="none" d="M2107.75,261.89H2113.27V274.15H2109.91V264.89H2107.75Z"/><text x="2115.47" y="273.85" textLength="8.77" lengthAdjust="spacingAndGlyphs">0</text><text x="2125.39" y="273.85" textLength="7.72" lengthAdjust="spacingAndGlyphs">9</text></g>
<rect x="2095.9" y="283.35" width="42.0" height="62.45" fill="#12AEE5"/>
<g font-size="17.16" fill="#FFFFFF" stroke="#FFFFFF" stroke-width="0.60"><text x="2096.70" y="338.30" textLength="9.08" lengthAdjust="spacingAndGlyphs">S</text><path stroke="none" d="M2107.24,326.34H2112.76V338.60H2109.40V329.34H2107.24Z"/><text x="2114.95" y="338.30" textLength="8.77" lengthAdjust="spacingAndGlyphs">0</text><text x="2124.89" y="338.30" textLength="8.16" lengthAdjust="spacingAndGlyphs">8</text></g>
<rect x="2095.9" y="347.80" width="42.0" height="62.45" fill="#12AEE5"/>
<g font-size="17.16" fill="#FFFFFF" stroke="#FFFFFF" stroke-width="0.60"><text x="2096.81" y="402.75" textLength="9.08" lengthAdjust="spacingAndGlyphs">S</text><path stroke="none" d="M2107.34,390.79H2112.86V403.05H2109.50V393.79H2107.34Z"/><text x="2115.05" y="402.75" textLength="8.77" lengthAdjust="spacingAndGlyphs">0</text><text x="2124.81" y="402.75" textLength="8.46" lengthAdjust="spacingAndGlyphs">7</text></g>
<rect x="2095.9" y="412.25" width="42.0" height="62.45" fill="#12AEE5"/>
<g font-size="17.16" fill="#FFFFFF" stroke="#FFFFFF" stroke-width="0.60"><text x="2096.91" y="467.20" textLength="9.08" lengthAdjust="spacingAndGlyphs">S</text><path stroke="none" d="M2107.44,455.24H2112.96V467.50H2109.60V458.24H2107.44Z"/><text x="2115.16" y="467.20" textLength="8.77" lengthAdjust="spacingAndGlyphs">0</text><text x="2125.03" y="467.20" textLength="8.10" lengthAdjust="spacingAndGlyphs">6</text></g>
<rect x="2021.0" y="644.0" width="45.0" height="260.5" fill="#FFFFFF"/>
<rect x="2023.0" y="646.00" width="41.0" height="62.62" fill="#12AEE5"/>
<g font-size="17.16" fill="#FFFFFF" stroke="#FFFFFF" stroke-width="0.60"><text x="2025.03" y="701.12" textLength="9.08" lengthAdjust="spacingAndGlyphs">S</text><path stroke="none" d="M2035.56,689.17H2041.08V701.42H2037.72V692.17H2035.56Z"/><path stroke="none" d="M2043.60,689.17H2049.12V701.42H2045.76V692.17H2043.60Z"/><text x="2051.73" y="701.12" textLength="7.95" lengthAdjust="spacingAndGlyphs">4</text></g>
<rect x="2023.0" y="710.62" width="41.0" height="62.62" fill="#12AEE5"/>
<g font-size="17.16" fill="#FFFFFF" stroke="#FFFFFF" stroke-width="0.60"><text x="2026.06" y="765.75" textLength="9.08" lengthAdjust="spacingAndGlyphs">S</text><path stroke="none" d="M2036.60,753.79H2042.12V766.05H2038.76V756.79H2036.60Z"/><path stroke="none" d="M2044.64,753.79H2050.16V766.05H2046.80V756.79H2044.64Z"/><text x="2052.57" y="765.75" textLength="7.40" lengthAdjust="spacingAndGlyphs">5</text></g>
<rect x="2023.0" y="775.25" width="41.0" height="62.62" fill="#12AEE5"/>
<g font-size="17.16" fill="#FFFFFF" stroke="#FFFFFF" stroke-width="0.60"><text x="2025.65" y="830.38" textLength="9.08" lengthAdjust="spacingAndGlyphs">S</text><path stroke="none" d="M2036.18,818.42H2041.70V830.67H2038.34V821.42H2036.18Z"/><path stroke="none" d="M2044.22,818.42H2049.74V830.67H2046.38V821.42H2044.22Z"/><text x="2052.03" y="830.38" textLength="8.10" lengthAdjust="spacingAndGlyphs">6</text></g>
<rect x="2023.0" y="839.88" width="41.0" height="62.62" fill="#12AEE5"/>
<g font-size="17.16" fill="#FFFFFF" stroke="#FFFFFF" stroke-width="0.60"><text x="2025.55" y="895.00" textLength="9.08" lengthAdjust="spacingAndGlyphs">S</text><path stroke="none" d="M2036.08,883.04H2041.60V895.30H2038.24V886.04H2036.08Z"/><path stroke="none" d="M2044.12,883.04H2049.64V895.30H2046.28V886.04H2044.12Z"/><text x="2051.81" y="895.00" textLength="8.46" lengthAdjust="spacingAndGlyphs">7</text></g>
<rect x="2093.9" y="644.0" width="46.0" height="260.5" fill="#FFFFFF"/>
<rect x="2095.9" y="646.00" width="42.0" height="62.62" fill="#12AEE5"/>
<g font-size="17.16" fill="#FFFFFF" stroke="#FFFFFF" stroke-width="0.60"><text x="2097.32" y="701.12" textLength="9.08" lengthAdjust="spacingAndGlyphs">S</text><path stroke="none" d="M2107.85,689.17H2113.37V701.42H2110.01V692.17H2107.85Z"/><text x="2115.57" y="701.12" textLength="8.77" lengthAdjust="spacingAndGlyphs">0</text><text x="2125.57" y="701.12" textLength="7.40" lengthAdjust="spacingAndGlyphs">5</text></g>
<rect x="2095.9" y="710.62" width="42.0" height="62.62" fill="#12AEE5"/>
<g font-size="17.16" fill="#FFFFFF" stroke="#FFFFFF" stroke-width="0.60"><text x="2096.29" y="765.75" textLength="9.08" lengthAdjust="spacingAndGlyphs">S</text><path stroke="none" d="M2106.82,753.79H2112.34V766.05H2108.98V756.79H2106.82Z"/><text x="2114.54" y="765.75" textLength="8.77" lengthAdjust="spacingAndGlyphs">0</text><text x="2124.73" y="765.75" textLength="7.95" lengthAdjust="spacingAndGlyphs">4</text></g>
<rect x="2095.9" y="775.25" width="42.0" height="62.62" fill="#12AEE5"/>
<g font-size="17.16" fill="#FFFFFF" stroke="#FFFFFF" stroke-width="0.60"><text x="2097.06" y="830.38" textLength="9.08" lengthAdjust="spacingAndGlyphs">S</text><path stroke="none" d="M2107.60,818.42H2113.12V830.67H2109.76V821.42H2107.60Z"/><text x="2115.31" y="830.38" textLength="8.77" lengthAdjust="spacingAndGlyphs">0</text><text x="2125.40" y="830.38" textLength="7.70" lengthAdjust="spacingAndGlyphs">3</text></g>
<rect x="2095.9" y="839.88" width="42.0" height="62.62" fill="#12AEE5"/>
<g font-size="17.16" fill="#FFFFFF" stroke="#FFFFFF" stroke-width="0.60"><text x="2096.91" y="895.00" textLength="9.08" lengthAdjust="spacingAndGlyphs">S</text><path stroke="none" d="M2107.44,883.04H2112.96V895.30H2109.60V886.04H2107.44Z"/><text x="2115.16" y="895.00" textLength="8.77" lengthAdjust="spacingAndGlyphs">0</text><text x="2125.06" y="895.00" textLength="8.13" lengthAdjust="spacingAndGlyphs">2</text></g>
<rect x="2021.0" y="1077.3" width="45.0" height="258.7" fill="#FFFFFF"/>
<rect x="2023.0" y="1079.30" width="41.0" height="62.18" fill="#12AEE5"/>
<g font-size="17.16" fill="#FFFFFF" stroke="#FFFFFF" stroke-width="0.60"><text x="2025.44" y="1133.97" textLength="9.08" lengthAdjust="spacingAndGlyphs">S</text><path stroke="none" d="M2035.98,1122.02H2041.50V1134.27H2038.14V1125.02H2035.98Z"/><path stroke="none" d="M2044.02,1122.02H2049.54V1134.27H2046.18V1125.02H2044.02Z"/><text x="2051.89" y="1133.97" textLength="8.16" lengthAdjust="spacingAndGlyphs">8</text></g>
<rect x="2023.0" y="1143.47" width="41.0" height="62.18" fill="#12AEE5"/>
<g font-size="17.16" fill="#FFFFFF" stroke="#FFFFFF" stroke-width="0.60"><text x="2025.96" y="1198.15" textLength="9.08" lengthAdjust="spacingAndGlyphs">S</text><path stroke="none" d="M2036.49,1186.19H2042.01V1198.45H2038.65V1189.19H2036.49Z"/><path stroke="none" d="M2044.53,1186.19H2050.05V1198.45H2046.69V1189.19H2044.53Z"/><text x="2052.39" y="1198.15" textLength="7.72" lengthAdjust="spacingAndGlyphs">9</text></g>
<rect x="2023.0" y="1207.65" width="41.0" height="62.18" fill="#12AEE5"/>
<g font-size="17.16" fill="#FFFFFF" stroke="#FFFFFF" stroke-width="0.60"><text x="2023.91" y="1262.33" textLength="9.08" lengthAdjust="spacingAndGlyphs">S</text><path stroke="none" d="M2034.44,1250.37H2039.96V1262.62H2036.60V1253.37H2034.44Z"/><text x="2042.28" y="1262.33" textLength="8.13" lengthAdjust="spacingAndGlyphs">2</text><text x="2051.47" y="1262.33" textLength="8.77" lengthAdjust="spacingAndGlyphs">0</text></g>
<rect x="2023.0" y="1271.83" width="41.0" height="62.18" fill="#12AEE5"/>
<g font-size="17.16" fill="#FFFFFF" stroke="#FFFFFF" stroke-width="0.60"><text x="2026.49" y="1326.50" textLength="9.08" lengthAdjust="spacingAndGlyphs">S</text><path stroke="none" d="M2037.02,1314.54H2042.54V1326.80H2039.18V1317.54H2037.02Z"/><text x="2044.86" y="1326.50" textLength="8.13" lengthAdjust="spacingAndGlyphs">2</text><path stroke="none" d="M2054.38,1314.54H2059.90V1326.80H2056.54V1317.54H2054.38Z"/></g>
<rect x="2093.9" y="1077.3" width="46.0" height="258.7" fill="#FFFFFF"/>
<rect x="2095.9" y="1079.30" width="42.0" height="62.18" fill="#12AEE5"/>
<g font-size="17.16" fill="#FFFFFF" stroke="#FFFFFF" stroke-width="0.60"><text x="2099.03" y="1133.97" textLength="9.08" lengthAdjust="spacingAndGlyphs">S</text><path stroke="none" d="M2109.56,1122.02H2115.08V1134.27H2111.72V1125.02H2109.56Z"/><text x="2117.27" y="1133.97" textLength="8.77" lengthAdjust="spacingAndGlyphs">0</text><path stroke="none" d="M2127.38,1122.02H2132.90V1134.27H2129.54V1125.02H2127.38Z"/></g>
<rect x="2095.9" y="1143.47" width="42.0" height="62.18" fill="#12AEE5"/>
<g font-size="17.16" fill="#FFFFFF" stroke="#FFFFFF" stroke-width="0.60"><text x="2096.45" y="1198.15" textLength="9.08" lengthAdjust="spacingAndGlyphs">S</text><path stroke="none" d="M2106.98,1186.19H2112.50V1198.45H2109.14V1189.19H2106.98Z"/><text x="2114.69" y="1198.15" textLength="8.77" lengthAdjust="spacingAndGlyphs">0</text><text x="2124.47" y="1198.15" textLength="8.77" lengthAdjust="spacingAndGlyphs">0</text></g>
<rect x="2095.9" y="1207.65" width="42.0" height="62.18" fill="#12AEE5"/>
<g font-size="17.16" fill="#FFFFFF" stroke="#FFFFFF" stroke-width="0.60"><text x="2106.03" y="1262.33" textLength="9.08" lengthAdjust="spacingAndGlyphs">S</text><text x="2116.38" y="1262.33" textLength="7.72" lengthAdjust="spacingAndGlyphs">9</text><text x="2125.39" y="1262.33" textLength="7.72" lengthAdjust="spacingAndGlyphs">9</text></g>
<rect x="2095.9" y="1271.83" width="42.0" height="62.18" fill="#12AEE5"/>
<g font-size="17.16" fill="#FFFFFF" stroke="#FFFFFF" stroke-width="0.60"><text x="2105.52" y="1326.50" textLength="9.08" lengthAdjust="spacingAndGlyphs">S</text><text x="2115.87" y="1326.50" textLength="7.72" lengthAdjust="spacingAndGlyphs">9</text><text x="2124.89" y="1326.50" textLength="8.16" lengthAdjust="spacingAndGlyphs">8</text></g>
<g transform="translate(2142.9,25.6) rotate(6.00)">
<rect x="1" y="1" width="63" height="44" fill="#12AEE5" stroke="#FFFFFF" stroke-width="2"/>
<g font-size="17.16" fill="#FFFFFF" stroke="#FFFFFF" stroke-width="0.60"><text x="32.69" y="38.10" textLength="9.08" lengthAdjust="spacingAndGlyphs">S</text><path stroke="none" d="M43.22,26.14H48.74V38.40H45.38V29.14H43.22Z"/><text x="51.06" y="38.10" textLength="8.13" lengthAdjust="spacingAndGlyphs">2</text></g>
</g>
<g transform="translate(2214.3,33.1) rotate(14.80)">
<rect x="1" y="1" width="63" height="44" fill="#12AEE5" stroke="#FFFFFF" stroke-width="2"/>
<g font-size="17.16" fill="#FFFFFF" stroke="#FFFFFF" stroke-width="0.60"><text x="34.81" y="38.10" textLength="9.08" lengthAdjust="spacingAndGlyphs">S</text><path stroke="none" d="M45.34,26.14H50.86V38.40H47.50V29.14H45.34Z"/><path stroke="none" d="M53.38,26.14H58.90V38.40H55.54V29.14H53.38Z"/></g>
</g>
<g transform="translate(2143.2,1518.6) rotate(-6.40)">
<rect x="1" y="-45" width="63" height="44" fill="#12AEE5" stroke="#FFFFFF" stroke-width="2"/>
<g font-size="17.16" fill="#FFFFFF" stroke="#FFFFFF" stroke-width="0.60"><text x="31.10" y="-7.90" textLength="9.08" lengthAdjust="spacingAndGlyphs">S</text><text x="41.47" y="-7.90" textLength="8.16" lengthAdjust="spacingAndGlyphs">8</text><text x="50.81" y="-7.90" textLength="8.46" lengthAdjust="spacingAndGlyphs">7</text></g>
</g>
<g transform="translate(2214.6,1510.8) rotate(-14.50)">
<rect x="1" y="-45" width="63" height="44" fill="#12AEE5" stroke="#FFFFFF" stroke-width="2"/>
<g font-size="17.16" fill="#FFFFFF" stroke="#FFFFFF" stroke-width="0.60"><text x="31.00" y="-7.90" textLength="9.08" lengthAdjust="spacingAndGlyphs">S</text><text x="41.37" y="-7.90" textLength="8.16" lengthAdjust="spacingAndGlyphs">8</text><text x="50.89" y="-7.90" textLength="8.16" lengthAdjust="spacingAndGlyphs">8</text></g>
</g>
<g transform="translate(2633.6,323.3) rotate(52.50)">
<rect x="-32" y="-22" width="64" height="44" fill="#E20E19" stroke="#FFFFFF" stroke-width="2"/>
<g font-size="17.16" fill="#FFFFFF" stroke="#FFFFFF" stroke-width="0.60"><text x="-1.55" y="15.10" textLength="9.08" lengthAdjust="spacingAndGlyphs">S</text><text x="8.66" y="15.10" textLength="8.77" lengthAdjust="spacingAndGlyphs">0</text><text x="18.53" y="15.10" textLength="8.10" lengthAdjust="spacingAndGlyphs">6</text></g>
</g>
<g transform="translate(2671.8,376.7) rotate(56.40)">
<rect x="-32" y="-22" width="64" height="44" fill="#E20E19" stroke="#FFFFFF" stroke-width="2"/>
<g font-size="17.16" fill="#FFFFFF" stroke="#FFFFFF" stroke-width="0.60"><text x="-1.14" y="15.10" textLength="9.08" lengthAdjust="spacingAndGlyphs">S</text><text x="9.07" y="15.10" textLength="8.77" lengthAdjust="spacingAndGlyphs">0</text><text x="19.07" y="15.10" textLength="7.40" lengthAdjust="spacingAndGlyphs">5</text></g>
</g>
<g transform="translate(2706.4,432.6) rotate(60.10)">
<rect x="-32" y="-22" width="64" height="44" fill="#E20E19" stroke="#FFFFFF" stroke-width="2"/>
<g font-size="17.16" fill="#FFFFFF" stroke="#FFFFFF" stroke-width="0.60"><text x="-2.17" y="15.10" textLength="9.08" lengthAdjust="spacingAndGlyphs">S</text><text x="8.04" y="15.10" textLength="8.77" lengthAdjust="spacingAndGlyphs">0</text><text x="18.23" y="15.10" textLength="7.95" lengthAdjust="spacingAndGlyphs">4</text></g>
</g>
<g transform="translate(2738.1,490.0) rotate(62.00)">
<rect x="-32" y="-22" width="64" height="44" fill="#E20E19" stroke="#FFFFFF" stroke-width="2"/>
<g font-size="17.16" fill="#FFFFFF" stroke="#FFFFFF" stroke-width="0.60"><text x="-1.40" y="15.10" textLength="9.08" lengthAdjust="spacingAndGlyphs">S</text><text x="8.81" y="15.10" textLength="8.77" lengthAdjust="spacingAndGlyphs">0</text><text x="18.90" y="15.10" textLength="7.70" lengthAdjust="spacingAndGlyphs">3</text></g>
</g>
<g transform="translate(2764.1,554.6) rotate(72.30)">
<rect x="-32" y="-22" width="64" height="44" fill="#E20E19" stroke="#FFFFFF" stroke-width="2"/>
<g font-size="17.16" fill="#FFFFFF" stroke="#FFFFFF" stroke-width="0.60"><text x="-1.55" y="15.10" textLength="9.08" lengthAdjust="spacingAndGlyphs">S</text><text x="8.66" y="15.10" textLength="8.77" lengthAdjust="spacingAndGlyphs">0</text><text x="18.56" y="15.10" textLength="8.13" lengthAdjust="spacingAndGlyphs">2</text></g>
</g>
<g transform="translate(2780.8,618.6) rotate(78.90)">
<rect x="-32" y="-22" width="64" height="44" fill="#E20E19" stroke="#FFFFFF" stroke-width="2"/>
<g font-size="17.16" fill="#FFFFFF" stroke="#FFFFFF" stroke-width="0.60"><text x="0.57" y="15.10" textLength="9.08" lengthAdjust="spacingAndGlyphs">S</text><text x="10.77" y="15.10" textLength="8.77" lengthAdjust="spacingAndGlyphs">0</text><path stroke="none" d="M20.88,3.14H26.40V15.40H23.04V6.14H20.88Z"/></g>
</g>
<g transform="translate(2790.4,829.4) rotate(-88.50)">
<rect x="-32" y="-22" width="64" height="44" fill="#E20E19" stroke="#FFFFFF" stroke-width="2"/>
<g font-size="17.16" fill="#FFFFFF" stroke="#FFFFFF" stroke-width="0.60"><text x="-0.88" y="15.10" textLength="9.08" lengthAdjust="spacingAndGlyphs">S</text><text x="9.47" y="15.10" textLength="7.72" lengthAdjust="spacingAndGlyphs">9</text><text x="18.31" y="15.10" textLength="8.46" lengthAdjust="spacingAndGlyphs">7</text></g>
</g>
<g transform="translate(2784.4,897.1) rotate(-82.00)">
<rect x="-32" y="-22" width="64" height="44" fill="#E20E19" stroke="#FFFFFF" stroke-width="2"/>
<g font-size="17.16" fill="#FFFFFF" stroke="#FFFFFF" stroke-width="0.60"><text x="-0.78" y="15.10" textLength="9.08" lengthAdjust="spacingAndGlyphs">S</text><text x="9.57" y="15.10" textLength="7.72" lengthAdjust="spacingAndGlyphs">9</text><text x="18.53" y="15.10" textLength="8.10" lengthAdjust="spacingAndGlyphs">6</text></g>
</g>
<g transform="translate(2766.5,963.6) rotate(-71.00)">
<rect x="-32" y="-22" width="64" height="44" fill="#E20E19" stroke="#FFFFFF" stroke-width="2"/>
<g font-size="17.16" fill="#FFFFFF" stroke="#FFFFFF" stroke-width="0.60"><text x="-0.36" y="15.10" textLength="9.08" lengthAdjust="spacingAndGlyphs">S</text><text x="9.99" y="15.10" textLength="7.72" lengthAdjust="spacingAndGlyphs">9</text><text x="19.07" y="15.10" textLength="7.40" lengthAdjust="spacingAndGlyphs">5</text></g>
</g>
<g transform="translate(2672.1,1166.8) rotate(-54.90)">
<rect x="-32" y="-22" width="64" height="44" fill="#E20E19" stroke="#FFFFFF" stroke-width="2"/>
<g font-size="17.16" fill="#FFFFFF" stroke="#FFFFFF" stroke-width="0.60"><text x="-1.40" y="15.10" textLength="9.08" lengthAdjust="spacingAndGlyphs">S</text><text x="8.96" y="15.10" textLength="7.72" lengthAdjust="spacingAndGlyphs">9</text><text x="18.23" y="15.10" textLength="7.95" lengthAdjust="spacingAndGlyphs">4</text></g>
</g>
<g transform="translate(2634.1,1220.8) rotate(-54.90)">
<rect x="-32" y="-22" width="64" height="44" fill="#E20E19" stroke="#FFFFFF" stroke-width="2"/>
<g font-size="17.16" fill="#FFFFFF" stroke="#FFFFFF" stroke-width="0.60"><text x="-0.62" y="15.10" textLength="9.08" lengthAdjust="spacingAndGlyphs">S</text><text x="9.73" y="15.10" textLength="7.72" lengthAdjust="spacingAndGlyphs">9</text><text x="18.90" y="15.10" textLength="7.70" lengthAdjust="spacingAndGlyphs">3</text></g>
</g>
<rect x="165.1" y="135.1" width="108.0" height="152.7" fill="#1E2446"/>
<g font-size="32.61" fill="#FFFFFF" stroke="#FFFFFF" stroke-width="1.21"><path stroke="none" d="M192.49,274.60 L195.93,250.40 L202.62,250.40 L207.77,262.50 L213.30,250.40 L219.79,250.40 L223.23,274.60 L216.35,274.60 L214.64,260.78 L209.09,274.60 L206.42,274.60 L200.70,260.78 L198.80,274.60Z"/><text x="224.48" y="274.00" textLength="18.67" lengthAdjust="spacingAndGlyphs">2</text><text x="243.61" y="274.00" textLength="18.59" lengthAdjust="spacingAndGlyphs">6</text></g>
<rect x="345.8" y="135.1" width="108.0" height="152.7" fill="#1E2446"/>
<g font-size="32.61" fill="#FFFFFF" stroke="#FFFFFF" stroke-width="1.21"><path stroke="none" d="M372.96,274.60 L376.40,250.40 L383.08,250.40 L388.23,262.50 L393.76,250.40 L400.25,250.40 L403.69,274.60 L396.82,274.60 L395.11,260.78 L389.55,274.60 L386.88,274.60 L381.16,260.78 L379.26,274.60Z"/><text x="404.95" y="274.00" textLength="18.67" lengthAdjust="spacingAndGlyphs">2</text><text x="423.80" y="274.00" textLength="19.43" lengthAdjust="spacingAndGlyphs">7</text></g>
<rect x="520.2" y="135.1" width="108.0" height="152.7" fill="#1E2446"/>
<g font-size="32.61" fill="#FFFFFF" stroke="#FFFFFF" stroke-width="1.21"><path stroke="none" d="M547.12,274.60 L550.56,250.40 L557.25,250.40 L562.40,262.50 L567.93,250.40 L574.42,250.40 L577.86,274.60 L570.98,274.60 L569.27,260.78 L563.72,274.60 L561.05,274.60 L555.33,260.78 L553.43,274.60Z"/><text x="579.12" y="274.00" textLength="18.67" lengthAdjust="spacingAndGlyphs">2</text><text x="598.40" y="274.00" textLength="18.74" lengthAdjust="spacingAndGlyphs">8</text></g>
<rect x="693.8" y="135.1" width="108.0" height="152.7" fill="#1E2446"/>
<g font-size="32.61" fill="#FFFFFF" stroke="#FFFFFF" stroke-width="1.21"><path stroke="none" d="M721.90,274.60 L725.34,250.40 L732.02,250.40 L737.17,262.50 L742.70,250.40 L749.19,250.40 L752.63,274.60 L745.75,274.60 L744.05,260.78 L738.49,274.60 L735.82,274.60 L730.10,260.78 L728.20,274.60Z"/><text x="753.89" y="274.00" textLength="18.67" lengthAdjust="spacingAndGlyphs">2</text><text x="773.13" y="274.00" textLength="17.75" lengthAdjust="spacingAndGlyphs">9</text></g>
<rect x="868.2" y="135.1" width="108.0" height="152.7" fill="#1E2446"/>
<g font-size="32.61" fill="#FFFFFF" stroke="#FFFFFF" stroke-width="1.21"><path stroke="none" d="M894.89,274.60 L898.33,250.40 L905.01,250.40 L910.16,262.50 L915.69,250.40 L922.19,250.40 L925.62,274.60 L918.75,274.60 L917.04,260.78 L911.48,274.60 L908.81,274.60 L903.09,260.78 L901.19,274.60Z"/><text x="927.31" y="274.00" textLength="17.69" lengthAdjust="spacingAndGlyphs">3</text><text x="945.45" y="274.00" textLength="20.13" lengthAdjust="spacingAndGlyphs">0</text></g>
<rect x="1151.0" y="135.1" width="108.0" height="152.7" fill="#1E2446"/>
<g font-size="32.61" fill="#FFFFFF" stroke="#FFFFFF" stroke-width="1.21"><path stroke="none" d="M1186.44,274.60 L1189.88,250.40 L1196.56,250.40 L1201.71,262.50 L1207.24,250.40 L1213.73,250.40 L1217.17,274.60 L1210.29,274.60 L1208.59,260.78 L1203.03,274.60 L1200.36,274.60 L1194.64,260.78 L1192.74,274.60Z"/><text x="1218.86" y="274.00" textLength="17.69" lengthAdjust="spacingAndGlyphs">3</text><path stroke="none" d="M1237.82,251.25H1247.50V274.60H1240.72V257.30H1237.82Z"/></g>
<rect x="1325.0" y="135.1" width="108.0" height="152.7" fill="#1E2446"/>
<g font-size="32.61" fill="#FFFFFF" stroke="#FFFFFF" stroke-width="1.21"><path stroke="none" d="M1352.75,274.60 L1356.19,250.40 L1362.87,250.40 L1368.02,262.50 L1373.55,250.40 L1380.04,250.40 L1383.48,274.60 L1376.60,274.60 L1374.90,260.78 L1369.34,274.60 L1366.67,274.60 L1360.95,260.78 L1359.05,274.60Z"/><text x="1385.17" y="274.00" textLength="17.69" lengthAdjust="spacingAndGlyphs">3</text><text x="1403.57" y="274.00" textLength="18.67" lengthAdjust="spacingAndGlyphs">2</text></g>
<rect x="1499.0" y="135.1" width="108.0" height="152.7" fill="#1E2446"/>
<g font-size="32.61" fill="#FFFFFF" stroke="#FFFFFF" stroke-width="1.21"><path stroke="none" d="M1527.10,274.60 L1530.54,250.40 L1537.22,250.40 L1542.37,262.50 L1547.90,250.40 L1554.39,250.40 L1557.83,274.60 L1550.95,274.60 L1549.25,260.78 L1543.69,274.60 L1541.02,274.60 L1535.30,260.78 L1533.40,274.60Z"/><text x="1559.52" y="274.00" textLength="17.69" lengthAdjust="spacingAndGlyphs">3</text><text x="1578.36" y="274.00" textLength="17.69" lengthAdjust="spacingAndGlyphs">3</text></g>
<rect x="1674.0" y="135.1" width="108.0" height="152.7" fill="#1E2446"/>
<g font-size="32.61" fill="#FFFFFF" stroke="#FFFFFF" stroke-width="1.21"><path stroke="none" d="M1700.34,274.60 L1703.78,250.40 L1710.46,250.40 L1715.61,262.50 L1721.14,250.40 L1727.63,250.40 L1731.07,274.60 L1724.19,274.60 L1722.49,260.78 L1716.93,274.60 L1714.26,274.60 L1708.54,260.78 L1706.64,274.60Z"/><text x="1732.76" y="274.00" textLength="17.69" lengthAdjust="spacingAndGlyphs">3</text><text x="1751.83" y="274.00" textLength="18.24" lengthAdjust="spacingAndGlyphs">4</text></g>
<rect x="1848.2" y="135.1" width="108.0" height="152.7" fill="#1E2446"/>
<g font-size="32.61" fill="#FFFFFF" stroke="#FFFFFF" stroke-width="1.21"><path stroke="none" d="M1876.89,274.60 L1880.32,250.40 L1887.01,250.40 L1892.16,262.50 L1897.69,250.40 L1904.18,250.40 L1907.62,274.60 L1900.74,274.60 L1899.03,260.78 L1893.48,274.60 L1890.81,274.60 L1885.09,260.78 L1883.19,274.60Z"/><text x="1909.31" y="274.00" textLength="17.69" lengthAdjust="spacingAndGlyphs">3</text><text x="1927.93" y="274.00" textLength="17.01" lengthAdjust="spacingAndGlyphs">5</text></g>
<rect x="345.9" y="1261.2" width="108.0" height="152.4" fill="#1E2446"/>
<g font-size="32.61" fill="#FFFFFF" stroke="#FFFFFF" stroke-width="1.21"><path stroke="none" d="M372.24,1400.40 L375.68,1376.20 L382.36,1376.20 L387.51,1388.30 L393.04,1376.20 L399.53,1376.20 L402.97,1400.40 L396.09,1400.40 L394.39,1386.58 L388.83,1400.40 L386.16,1400.40 L380.44,1386.58 L378.54,1400.40Z"/><text x="404.23" y="1399.79" textLength="18.67" lengthAdjust="spacingAndGlyphs">2</text><text x="423.15" y="1399.79" textLength="20.13" lengthAdjust="spacingAndGlyphs">0</text></g>
<rect x="519.8" y="1261.2" width="108.0" height="152.4" fill="#1E2446"/>
<g font-size="32.61" fill="#FFFFFF" stroke="#FFFFFF" stroke-width="1.21"><path stroke="none" d="M553.29,1400.40 L556.73,1376.20 L563.41,1376.20 L568.56,1388.30 L574.09,1376.20 L580.59,1376.20 L584.02,1400.40 L577.15,1400.40 L575.44,1386.58 L569.88,1400.40 L567.21,1400.40 L561.49,1386.58 L559.59,1400.40Z"/><path stroke="none" d="M585.84,1377.05H595.52V1400.40H588.74V1383.10H585.84Z"/><text x="599.13" y="1399.79" textLength="17.75" lengthAdjust="spacingAndGlyphs">9</text></g>
<rect x="694.2" y="1261.2" width="108.0" height="152.4" fill="#1E2446"/>
<g font-size="32.61" fill="#FFFFFF" stroke="#FFFFFF" stroke-width="1.21"><path stroke="none" d="M726.52,1400.40 L729.96,1376.20 L736.64,1376.20 L741.79,1388.30 L747.32,1376.20 L753.81,1376.20 L757.25,1400.40 L750.37,1400.40 L748.67,1386.58 L743.11,1400.40 L740.44,1400.40 L734.72,1386.58 L732.82,1400.40Z"/><path stroke="none" d="M759.07,1377.05H768.75V1400.40H761.97V1383.10H759.07Z"/><text x="772.40" y="1399.79" textLength="18.74" lengthAdjust="spacingAndGlyphs">8</text></g>
<rect x="868.2" y="1261.2" width="108.0" height="152.4" fill="#1E2446"/>
<g font-size="32.61" fill="#FFFFFF" stroke="#FFFFFF" stroke-width="1.21"><path stroke="none" d="M900.75,1400.40 L904.19,1376.20 L910.88,1376.20 L916.02,1388.30 L921.55,1376.20 L928.05,1376.20 L931.49,1400.40 L924.61,1400.40 L922.90,1386.58 L917.34,1400.40 L914.68,1400.40 L908.95,1386.58 L907.05,1400.40Z"/><path stroke="none" d="M933.30,1377.05H942.98V1400.40H936.20V1383.10H933.30Z"/><text x="946.20" y="1399.79" textLength="19.43" lengthAdjust="spacingAndGlyphs">7</text></g>
<rect x="1150.8" y="1261.2" width="108.0" height="152.4" fill="#1E2446"/>
<g font-size="32.61" fill="#FFFFFF" stroke="#FFFFFF" stroke-width="1.21"><path stroke="none" d="M1183.59,1400.40 L1187.03,1376.20 L1193.71,1376.20 L1198.86,1388.30 L1204.39,1376.20 L1210.88,1376.20 L1214.32,1400.40 L1207.44,1400.40 L1205.73,1386.58 L1200.18,1400.40 L1197.51,1400.40 L1191.79,1386.58 L1189.89,1400.40Z"/><path stroke="none" d="M1216.14,1377.05H1225.82V1400.40H1219.04V1383.10H1216.14Z"/><text x="1229.31" y="1399.79" textLength="18.59" lengthAdjust="spacingAndGlyphs">6</text></g>
<rect x="1324.8" y="1261.2" width="108.0" height="152.4" fill="#1E2446"/>
<g font-size="32.61" fill="#FFFFFF" stroke="#FFFFFF" stroke-width="1.21"><path stroke="none" d="M1358.53,1400.40 L1361.96,1376.20 L1368.65,1376.20 L1373.80,1388.30 L1379.33,1376.20 L1385.82,1376.20 L1389.26,1400.40 L1382.38,1400.40 L1380.67,1386.58 L1375.12,1400.40 L1372.45,1400.40 L1366.73,1386.58 L1364.83,1400.40Z"/><path stroke="none" d="M1391.07,1377.05H1400.75V1400.40H1393.98V1383.10H1391.07Z"/><text x="1404.53" y="1399.79" textLength="17.01" lengthAdjust="spacingAndGlyphs">5</text></g>
<rect x="1499.2" y="1261.2" width="108.0" height="152.4" fill="#1E2446"/>
<g font-size="32.61" fill="#FFFFFF" stroke="#FFFFFF" stroke-width="1.21"><path stroke="none" d="M1530.58,1400.40 L1534.02,1376.20 L1540.70,1376.20 L1545.85,1388.30 L1551.38,1376.20 L1557.87,1376.20 L1561.31,1400.40 L1554.43,1400.40 L1552.73,1386.58 L1547.17,1400.40 L1544.50,1400.40 L1538.78,1386.58 L1536.88,1400.40Z"/><path stroke="none" d="M1563.13,1377.05H1572.81V1400.40H1566.03V1383.10H1563.13Z"/><text x="1577.03" y="1399.79" textLength="18.24" lengthAdjust="spacingAndGlyphs">4</text></g>
<rect x="1674.0" y="1261.2" width="108.0" height="152.4" fill="#1E2446"/>
<g font-size="32.61" fill="#FFFFFF" stroke="#FFFFFF" stroke-width="1.21"><path stroke="none" d="M1707.14,1400.40 L1710.58,1376.20 L1717.26,1376.20 L1722.41,1388.30 L1727.94,1376.20 L1734.43,1376.20 L1737.87,1400.40 L1730.99,1400.40 L1729.29,1386.58 L1723.73,1400.40 L1721.06,1400.40 L1715.34,1386.58 L1713.44,1400.40Z"/><path stroke="none" d="M1739.69,1377.05H1749.37V1400.40H1742.59V1383.10H1739.69Z"/><text x="1753.36" y="1399.79" textLength="17.69" lengthAdjust="spacingAndGlyphs">3</text></g>
<rect x="1848.0" y="1261.2" width="108.0" height="152.4" fill="#1E2446"/>
<g font-size="32.61" fill="#FFFFFF" stroke="#FFFFFF" stroke-width="1.21"><path stroke="none" d="M1880.79,1400.40 L1884.23,1376.20 L1890.91,1376.20 L1896.06,1388.30 L1901.59,1376.20 L1908.08,1376.20 L1911.52,1400.40 L1904.64,1400.40 L1902.93,1386.58 L1897.38,1400.40 L1894.71,1400.40 L1888.99,1386.58 L1887.09,1400.40Z"/><path stroke="none" d="M1913.34,1377.05H1923.02V1400.40H1916.24V1383.10H1913.34Z"/><text x="1926.57" y="1399.79" textLength="18.67" lengthAdjust="spacingAndGlyphs">2</text></g>
<rect x="165.0" y="1257.0" width="108.0" height="153.0" fill="#1E2446"/>
<g font-size="32.61" fill="#FFFFFF" stroke="#FFFFFF" stroke-width="1.21"><path stroke="none" d="M200.09,1396.80 L203.52,1372.60 L210.21,1372.60 L215.36,1384.70 L220.89,1372.60 L227.38,1372.60 L230.82,1396.80 L223.94,1396.80 L222.23,1382.98 L216.68,1396.80 L214.01,1396.80 L208.29,1382.98 L206.39,1396.80Z"/><text x="232.08" y="1396.19" textLength="18.67" lengthAdjust="spacingAndGlyphs">2</text><path stroke="none" d="M251.82,1373.45H261.50V1396.80H254.72V1379.50H251.82Z"/></g>
<rect x="167.0" y="352.0" width="108.8" height="152.6" fill="#1E2446"/>
<g font-size="32.61" fill="#FFFFFF" stroke="#FFFFFF" stroke-width="1.21"><path stroke="none" d="M196.13,491.40 L199.57,467.20 L206.26,467.20 L211.40,479.30 L216.94,467.20 L223.43,467.20 L226.87,491.40 L219.99,491.40 L218.28,477.58 L212.73,491.40 L210.06,491.40 L204.33,477.58 L202.43,491.40Z"/><text x="228.12" y="490.80" textLength="18.67" lengthAdjust="spacingAndGlyphs">2</text><text x="247.53" y="490.80" textLength="17.01" lengthAdjust="spacingAndGlyphs">5</text></g>
<rect x="165.0" y="550.0" width="108.0" height="153.0" fill="#1E2446"/>
<g font-size="32.61" fill="#FFFFFF" stroke="#FFFFFF" stroke-width="1.21"><path stroke="none" d="M190.99,689.80 L194.42,665.60 L201.11,665.60 L206.26,677.70 L211.79,665.60 L218.28,665.60 L221.72,689.80 L214.84,689.80 L213.13,675.98 L207.58,689.80 L204.91,689.80 L199.19,675.98 L197.29,689.80Z"/><text x="222.98" y="689.19" textLength="18.67" lengthAdjust="spacingAndGlyphs">2</text><text x="242.83" y="689.19" textLength="18.24" lengthAdjust="spacingAndGlyphs">4</text></g>
<rect x="165.0" y="836.0" width="108.0" height="154.0" fill="#1E2446"/>
<g font-size="32.61" fill="#FFFFFF" stroke="#FFFFFF" stroke-width="1.21"><path stroke="none" d="M192.75,976.80 L196.19,952.60 L202.87,952.60 L208.02,964.70 L213.55,952.60 L220.04,952.60 L223.48,976.80 L216.60,976.80 L214.90,962.98 L209.34,976.80 L206.67,976.80 L200.95,962.98 L199.05,976.80Z"/><text x="224.74" y="976.19" textLength="18.67" lengthAdjust="spacingAndGlyphs">2</text><text x="244.36" y="976.19" textLength="17.69" lengthAdjust="spacingAndGlyphs">3</text></g>
<rect x="165.0" y="1034.0" width="107.7" height="152.8" fill="#1E2446"/>
<g font-size="32.61" fill="#FFFFFF" stroke="#FFFFFF" stroke-width="1.21"><path stroke="none" d="M192.09,1173.60 L195.53,1149.40 L202.22,1149.40 L207.37,1161.50 L212.90,1149.40 L219.39,1149.40 L222.83,1173.60 L215.95,1173.60 L214.24,1159.78 L208.69,1173.60 L206.02,1173.60 L200.30,1159.78 L198.40,1173.60Z"/><text x="224.08" y="1172.99" textLength="18.67" lengthAdjust="spacingAndGlyphs">2</text><text x="243.27" y="1172.99" textLength="18.67" lengthAdjust="spacingAndGlyphs">2</text></g>
<rect x="2203.0" y="210.3" width="153.5" height="107.4" fill="#1E2446"/>
<g font-size="32.61" fill="#FFFFFF" stroke="#FFFFFF" stroke-width="1.21"><path stroke="none" d="M2275.28,305.30 L2278.72,281.10 L2285.40,281.10 L2290.55,293.20 L2296.08,281.10 L2302.57,281.10 L2306.01,305.30 L2299.13,305.30 L2297.43,291.48 L2291.87,305.30 L2289.20,305.30 L2283.48,291.48 L2281.58,305.30Z"/><text x="2307.00" y="304.69" textLength="20.13" lengthAdjust="spacingAndGlyphs">0</text><text x="2327.73" y="304.69" textLength="17.01" lengthAdjust="spacingAndGlyphs">5</text></g>
<rect x="2203.0" y="379.0" width="153.5" height="108.6" fill="#1E2446"/>
<g font-size="32.61" fill="#FFFFFF" stroke="#FFFFFF" stroke-width="1.21"><path stroke="none" d="M2274.34,475.20 L2277.78,451.00 L2284.46,451.00 L2289.61,463.10 L2295.14,451.00 L2301.63,451.00 L2305.07,475.20 L2298.19,475.20 L2296.49,461.38 L2290.93,475.20 L2288.26,475.20 L2282.54,461.38 L2280.64,475.20Z"/><text x="2306.06" y="474.60" textLength="20.13" lengthAdjust="spacingAndGlyphs">0</text><text x="2326.51" y="474.60" textLength="18.59" lengthAdjust="spacingAndGlyphs">6</text></g>
<rect x="2203.0" y="549.2" width="153.5" height="107.6" fill="#1E2446"/>
<g font-size="32.61" fill="#FFFFFF" stroke="#FFFFFF" stroke-width="1.21"><path stroke="none" d="M2274.10,644.40 L2277.54,620.20 L2284.23,620.20 L2289.37,632.30 L2294.91,620.20 L2301.40,620.20 L2304.84,644.40 L2297.96,644.40 L2296.25,630.58 L2290.70,644.40 L2288.03,644.40 L2282.30,630.58 L2280.40,644.40Z"/><text x="2305.83" y="643.79" textLength="20.13" lengthAdjust="spacingAndGlyphs">0</text><text x="2326.00" y="643.79" textLength="19.43" lengthAdjust="spacingAndGlyphs">7</text></g>
<rect x="2203.0" y="719.2" width="153.5" height="107.4" fill="#1E2446"/>
<g font-size="32.61" fill="#FFFFFF" stroke="#FFFFFF" stroke-width="1.21"><path stroke="none" d="M2273.87,814.20 L2277.31,790.00 L2283.99,790.00 L2289.14,802.10 L2294.67,790.00 L2301.16,790.00 L2304.60,814.20 L2297.72,814.20 L2296.02,800.38 L2290.46,814.20 L2287.79,814.20 L2282.07,800.38 L2280.17,814.20Z"/><text x="2305.59" y="813.60" textLength="20.13" lengthAdjust="spacingAndGlyphs">0</text><text x="2326.20" y="813.60" textLength="18.74" lengthAdjust="spacingAndGlyphs">8</text></g>
<rect x="2203.0" y="889.0" width="153.5" height="107.5" fill="#1E2446"/>
<g font-size="32.61" fill="#FFFFFF" stroke="#FFFFFF" stroke-width="1.21"><path stroke="none" d="M2275.04,984.10 L2278.48,959.90 L2285.17,959.90 L2290.31,972.00 L2295.84,959.90 L2302.34,959.90 L2305.78,984.10 L2298.90,984.10 L2297.19,970.28 L2291.64,984.10 L2288.97,984.10 L2283.24,970.28 L2281.34,984.10Z"/><text x="2306.76" y="983.50" textLength="20.13" lengthAdjust="spacingAndGlyphs">0</text><text x="2327.33" y="983.50" textLength="17.75" lengthAdjust="spacingAndGlyphs">9</text></g>
<rect x="2203.0" y="1058.2" width="153.5" height="108.5" fill="#1E2446"/>
<g font-size="32.61" fill="#FFFFFF" stroke="#FFFFFF" stroke-width="1.21"><path stroke="none" d="M2279.73,1154.30 L2283.17,1130.10 L2289.85,1130.10 L2295.00,1142.20 L2300.53,1130.10 L2307.02,1130.10 L2310.46,1154.30 L2303.59,1154.30 L2301.88,1140.48 L2296.32,1154.30 L2293.65,1154.30 L2287.93,1140.48 L2286.03,1154.30Z"/><path stroke="none" d="M2312.28,1130.95H2321.96V1154.30H2315.18V1137.00H2312.28Z"/><text x="2325.25" y="1153.69" textLength="20.13" lengthAdjust="spacingAndGlyphs">0</text></g>
<rect x="2203.0" y="1228.0" width="153.5" height="107.8" fill="#1E2446"/>
<g font-size="32.61" fill="#FFFFFF" stroke="#FFFFFF" stroke-width="1.21"><path stroke="none" d="M2288.48,1323.40 L2291.92,1299.20 L2298.60,1299.20 L2303.75,1311.30 L2309.28,1299.20 L2315.77,1299.20 L2319.21,1323.40 L2312.33,1323.40 L2310.63,1309.58 L2305.07,1323.40 L2302.40,1323.40 L2296.68,1309.58 L2294.78,1323.40Z"/><path stroke="none" d="M2321.03,1300.05H2330.71V1323.40H2323.93V1306.10H2321.03Z"/><path stroke="none" d="M2334.82,1300.05H2344.50V1323.40H2337.72V1306.10H2334.82Z"/></g>
<rect x="2417.0" y="247.0" width="107.8" height="152.8" fill="#1E2446"/>
<g font-size="32.61" fill="#FFFFFF" stroke="#FFFFFF" stroke-width="1.21"><path stroke="none" d="M2444.55,386.60 L2447.99,362.40 L2454.67,362.40 L2459.82,374.50 L2465.35,362.40 L2471.84,362.40 L2475.28,386.60 L2468.40,386.60 L2466.70,372.78 L2461.14,386.60 L2458.47,386.60 L2452.75,372.78 L2450.85,386.60Z"/><text x="2476.97" y="386.00" textLength="17.69" lengthAdjust="spacingAndGlyphs">3</text><text x="2495.31" y="386.00" textLength="18.59" lengthAdjust="spacingAndGlyphs">6</text></g>
<rect x="2417.0" y="469.2" width="107.8" height="153.3" fill="#1E2446"/>
<g font-size="32.61" fill="#FFFFFF" stroke="#FFFFFF" stroke-width="1.21"><path stroke="none" d="M2450.83,609.30 L2454.27,585.10 L2460.95,585.10 L2466.10,597.20 L2471.63,585.10 L2478.12,585.10 L2481.56,609.30 L2474.69,609.30 L2472.98,595.48 L2467.42,609.30 L2464.75,609.30 L2459.03,595.48 L2457.13,609.30Z"/><text x="2482.55" y="608.69" textLength="20.13" lengthAdjust="spacingAndGlyphs">0</text><path stroke="none" d="M2503.62,585.95H2513.30V609.30H2506.52V592.00H2503.62Z"/></g>
<rect x="2419.0" y="691.0" width="107.8" height="152.4" fill="#1E2446"/>
<g font-size="32.61" fill="#FFFFFF" stroke="#FFFFFF" stroke-width="1.21"><path stroke="none" d="M2445.14,830.20 L2448.58,806.00 L2455.26,806.00 L2460.41,818.10 L2465.94,806.00 L2472.43,806.00 L2475.87,830.20 L2468.99,830.20 L2467.29,816.38 L2461.73,830.20 L2459.06,830.20 L2453.34,816.38 L2451.44,830.20Z"/><text x="2476.86" y="829.59" textLength="20.13" lengthAdjust="spacingAndGlyphs">0</text><text x="2497.37" y="829.59" textLength="18.67" lengthAdjust="spacingAndGlyphs">2</text></g>
<rect x="2413.0" y="910.0" width="107.8" height="152.6" fill="#1E2446"/>
<g font-size="32.61" fill="#FFFFFF" stroke="#FFFFFF" stroke-width="1.21"><path stroke="none" d="M2439.49,1049.40 L2442.93,1025.20 L2449.61,1025.20 L2454.76,1037.30 L2460.29,1025.20 L2466.79,1025.20 L2470.22,1049.40 L2463.35,1049.40 L2461.64,1035.58 L2456.08,1049.40 L2453.41,1049.40 L2447.69,1035.58 L2445.79,1049.40Z"/><text x="2471.21" y="1048.79" textLength="20.13" lengthAdjust="spacingAndGlyphs">0</text><text x="2492.16" y="1048.79" textLength="17.69" lengthAdjust="spacingAndGlyphs">3</text></g>
<rect x="2413.0" y="1139.0" width="107.8" height="153.7" fill="#1E2446"/>
<g font-size="32.61" fill="#FFFFFF" stroke="#FFFFFF" stroke-width="1.21"><path stroke="none" d="M2437.73,1279.50 L2441.17,1255.30 L2447.85,1255.30 L2453.00,1267.40 L2458.53,1255.30 L2465.02,1255.30 L2468.46,1279.50 L2461.59,1279.50 L2459.88,1265.68 L2454.32,1279.50 L2451.65,1279.50 L2445.93,1265.68 L2444.03,1279.50Z"/><text x="2469.45" y="1278.89" textLength="20.13" lengthAdjust="spacingAndGlyphs">0</text><text x="2490.63" y="1278.89" textLength="18.24" lengthAdjust="spacingAndGlyphs">4</text></g>
<rect x="475.7" y="352.8" width="87.0" height="110.0" fill="#EF8219"/>
<g font-size="27.49" fill="#FFFFFF" stroke="#FFFFFF" stroke-width="1.02"><text x="503.04" y="453.29" textLength="21.08" lengthAdjust="spacingAndGlyphs">A</text><path stroke="none" d="M525.39,434.11H533.55V453.80H527.84V439.21H525.39Z"/><text x="536.56" y="453.29" textLength="15.46" lengthAdjust="spacingAndGlyphs">9</text></g>
<rect x="627.9" y="352.8" width="87.0" height="110.0" fill="#EF8219"/>
<g font-size="27.49" fill="#FFFFFF" stroke="#FFFFFF" stroke-width="1.02"><text x="654.42" y="453.29" textLength="21.08" lengthAdjust="spacingAndGlyphs">A</text><path stroke="none" d="M676.77,434.11H684.93V453.80H679.22V439.21H676.77Z"/><text x="687.60" y="453.29" textLength="16.92" lengthAdjust="spacingAndGlyphs">7</text></g>
<rect x="780.0" y="352.8" width="87.0" height="110.0" fill="#EF8219"/>
<g font-size="27.49" fill="#FFFFFF" stroke="#FFFFFF" stroke-width="1.02"><text x="807.54" y="453.29" textLength="21.08" lengthAdjust="spacingAndGlyphs">A</text><path stroke="none" d="M829.89,434.11H838.05V453.80H832.34V439.21H829.89Z"/><text x="841.21" y="453.29" textLength="14.82" lengthAdjust="spacingAndGlyphs">5</text></g>
<rect x="933.0" y="352.8" width="87.0" height="110.0" fill="#EF8219"/>
<g font-size="27.49" fill="#FFFFFF" stroke="#FFFFFF" stroke-width="1.02"><text x="960.03" y="453.29" textLength="21.08" lengthAdjust="spacingAndGlyphs">A</text><path stroke="none" d="M982.38,434.11H990.54V453.80H984.83V439.21H982.38Z"/><text x="993.88" y="453.29" textLength="15.41" lengthAdjust="spacingAndGlyphs">3</text></g>
<rect x="1108.0" y="352.8" width="87.0" height="110.0" fill="#EF8219"/>
<g font-size="27.49" fill="#FFFFFF" stroke="#FFFFFF" stroke-width="1.02"><text x="1141.66" y="453.29" textLength="21.08" lengthAdjust="spacingAndGlyphs">A</text><path stroke="none" d="M1164.01,434.11H1172.17V453.80H1166.46V439.21H1164.01Z"/><path stroke="none" d="M1175.64,434.11H1183.80V453.80H1178.09V439.21H1175.64Z"/></g>
<rect x="1259.9" y="352.8" width="87.0" height="110.0" fill="#EF8219"/>
<g font-size="27.49" fill="#FFFFFF" stroke="#FFFFFF" stroke-width="1.02"><text x="1281.32" y="453.29" textLength="21.08" lengthAdjust="spacingAndGlyphs">A</text><text x="1302.94" y="453.29" textLength="17.53" lengthAdjust="spacingAndGlyphs">0</text><text x="1320.76" y="453.29" textLength="15.46" lengthAdjust="spacingAndGlyphs">9</text></g>
<rect x="1412.0" y="352.8" width="87.0" height="110.0" fill="#EF8219"/>
<g font-size="27.49" fill="#FFFFFF" stroke="#FFFFFF" stroke-width="1.02"><text x="1432.61" y="453.29" textLength="21.08" lengthAdjust="spacingAndGlyphs">A</text><text x="1454.22" y="453.29" textLength="17.53" lengthAdjust="spacingAndGlyphs">0</text><text x="1471.70" y="453.29" textLength="16.92" lengthAdjust="spacingAndGlyphs">7</text></g>
<rect x="1563.8" y="352.8" width="87.0" height="110.0" fill="#EF8219"/>
<g font-size="27.49" fill="#FFFFFF" stroke="#FFFFFF" stroke-width="1.02"><text x="1585.43" y="453.29" textLength="21.08" lengthAdjust="spacingAndGlyphs">A</text><text x="1607.04" y="453.29" textLength="17.53" lengthAdjust="spacingAndGlyphs">0</text><text x="1625.01" y="453.29" textLength="14.82" lengthAdjust="spacingAndGlyphs">5</text></g>
<rect x="1717.0" y="352.8" width="87.0" height="110.0" fill="#EF8219"/>
<g font-size="27.49" fill="#FFFFFF" stroke="#FFFFFF" stroke-width="1.02"><text x="1738.12" y="453.29" textLength="21.08" lengthAdjust="spacingAndGlyphs">A</text><text x="1759.73" y="453.29" textLength="17.53" lengthAdjust="spacingAndGlyphs">0</text><text x="1777.88" y="453.29" textLength="15.41" lengthAdjust="spacingAndGlyphs">3</text></g>
<rect x="1869.0" y="352.8" width="87.0" height="110.0" fill="#EF8219"/>
<g font-size="27.49" fill="#FFFFFF" stroke="#FFFFFF" stroke-width="1.02"><text x="1896.75" y="453.29" textLength="21.08" lengthAdjust="spacingAndGlyphs">A</text><text x="1918.36" y="453.29" textLength="17.53" lengthAdjust="spacingAndGlyphs">0</text><path stroke="none" d="M1936.64,434.11H1944.80V453.80H1939.09V439.21H1936.64Z"/></g>
<rect x="780.0" y="525.9" width="87.0" height="110.7" fill="#EF8219"/>
<g font-size="27.49" fill="#FFFFFF" stroke="#FFFFFF" stroke-width="1.02"><text x="806.73" y="627.09" textLength="21.08" lengthAdjust="spacingAndGlyphs">A</text><path stroke="none" d="M829.08,607.91H837.24V627.60H831.52V613.01H829.08Z"/><text x="840.15" y="627.09" textLength="16.19" lengthAdjust="spacingAndGlyphs">6</text></g>
<rect x="933.0" y="525.9" width="87.0" height="110.7" fill="#EF8219"/>
<g font-size="27.49" fill="#FFFFFF" stroke="#FFFFFF" stroke-width="1.02"><text x="958.50" y="627.09" textLength="21.08" lengthAdjust="spacingAndGlyphs">A</text><path stroke="none" d="M980.85,607.91H989.01V627.60H983.30V613.01H980.85Z"/><text x="992.56" y="627.09" textLength="15.89" lengthAdjust="spacingAndGlyphs">4</text></g>
<rect x="1108.0" y="525.9" width="87.0" height="110.7" fill="#EF8219"/>
<g font-size="27.49" fill="#FFFFFF" stroke="#FFFFFF" stroke-width="1.02"><text x="1134.73" y="627.09" textLength="21.08" lengthAdjust="spacingAndGlyphs">A</text><path stroke="none" d="M1157.08,607.91H1165.24V627.60H1159.52V613.01H1157.08Z"/><text x="1168.20" y="627.09" textLength="16.26" lengthAdjust="spacingAndGlyphs">2</text></g>
<rect x="1259.9" y="525.9" width="87.0" height="110.7" fill="#EF8219"/>
<g font-size="27.49" fill="#FFFFFF" stroke="#FFFFFF" stroke-width="1.02"><text x="1285.71" y="627.09" textLength="21.08" lengthAdjust="spacingAndGlyphs">A</text><path stroke="none" d="M1308.06,607.91H1316.22V627.60H1310.51V613.01H1308.06Z"/><text x="1318.95" y="627.09" textLength="17.53" lengthAdjust="spacingAndGlyphs">0</text></g>
<rect x="1412.0" y="525.9" width="87.0" height="110.7" fill="#EF8219"/>
<g font-size="27.49" fill="#FFFFFF" stroke="#FFFFFF" stroke-width="1.02"><text x="1432.40" y="627.09" textLength="21.08" lengthAdjust="spacingAndGlyphs">A</text><text x="1454.02" y="627.09" textLength="17.53" lengthAdjust="spacingAndGlyphs">0</text><text x="1471.87" y="627.09" textLength="16.32" lengthAdjust="spacingAndGlyphs">8</text></g>
<rect x="1563.8" y="525.9" width="87.0" height="110.7" fill="#EF8219"/>
<g font-size="27.49" fill="#FFFFFF" stroke="#FFFFFF" stroke-width="1.02"><text x="1584.61" y="627.09" textLength="21.08" lengthAdjust="spacingAndGlyphs">A</text><text x="1606.22" y="627.09" textLength="17.53" lengthAdjust="spacingAndGlyphs">0</text><text x="1623.95" y="627.09" textLength="16.19" lengthAdjust="spacingAndGlyphs">6</text></g>
<rect x="1717.0" y="525.9" width="87.0" height="110.7" fill="#EF8219"/>
<g font-size="27.49" fill="#FFFFFF" stroke="#FFFFFF" stroke-width="1.02"><text x="1736.59" y="627.09" textLength="21.08" lengthAdjust="spacingAndGlyphs">A</text><text x="1758.20" y="627.09" textLength="17.53" lengthAdjust="spacingAndGlyphs">0</text><text x="1776.56" y="627.09" textLength="15.89" lengthAdjust="spacingAndGlyphs">4</text></g>
<rect x="1869.0" y="525.9" width="87.0" height="110.7" fill="#EF8219"/>
<g font-size="27.49" fill="#FFFFFF" stroke="#FFFFFF" stroke-width="1.02"><text x="1889.81" y="627.09" textLength="21.08" lengthAdjust="spacingAndGlyphs">A</text><text x="1911.42" y="627.09" textLength="17.53" lengthAdjust="spacingAndGlyphs">0</text><text x="1929.20" y="627.09" textLength="16.26" lengthAdjust="spacingAndGlyphs">2</text></g>
<rect x="483.2" y="719.9" width="86.6" height="109.6" fill="#EF8219"/>
<g font-size="27.49" fill="#FFFFFF" stroke="#FFFFFF" stroke-width="1.02"><text x="503.61" y="819.99" textLength="21.08" lengthAdjust="spacingAndGlyphs">A</text><text x="525.46" y="819.99" textLength="16.26" lengthAdjust="spacingAndGlyphs">2</text><text x="541.85" y="819.99" textLength="17.53" lengthAdjust="spacingAndGlyphs">0</text></g>
<rect x="780.0" y="912.8" width="87.0" height="109.9" fill="#EF8219"/>
<g font-size="27.49" fill="#FFFFFF" stroke="#FFFFFF" stroke-width="1.02"><text x="802.85" y="1013.19" textLength="21.08" lengthAdjust="spacingAndGlyphs">A</text><text x="825.07" y="1013.19" textLength="15.41" lengthAdjust="spacingAndGlyphs">3</text><text x="841.21" y="1013.19" textLength="14.82" lengthAdjust="spacingAndGlyphs">5</text></g>
<rect x="933.0" y="912.8" width="87.0" height="109.9" fill="#EF8219"/>
<g font-size="27.49" fill="#FFFFFF" stroke="#FFFFFF" stroke-width="1.02"><text x="955.34" y="1013.19" textLength="21.08" lengthAdjust="spacingAndGlyphs">A</text><text x="977.56" y="1013.19" textLength="15.41" lengthAdjust="spacingAndGlyphs">3</text><text x="993.88" y="1013.19" textLength="15.41" lengthAdjust="spacingAndGlyphs">3</text></g>
<rect x="1108.0" y="912.8" width="87.0" height="109.9" fill="#EF8219"/>
<g font-size="27.49" fill="#FFFFFF" stroke="#FFFFFF" stroke-width="1.02"><text x="1136.97" y="1013.19" textLength="21.08" lengthAdjust="spacingAndGlyphs">A</text><text x="1159.19" y="1013.19" textLength="15.41" lengthAdjust="spacingAndGlyphs">3</text><path stroke="none" d="M1175.64,994.01H1183.80V1013.70H1178.09V999.11H1175.64Z"/></g>
<rect x="1260.0" y="912.8" width="87.0" height="109.9" fill="#EF8219"/>
<g font-size="27.49" fill="#FFFFFF" stroke="#FFFFFF" stroke-width="1.02"><text x="1282.34" y="1013.19" textLength="21.08" lengthAdjust="spacingAndGlyphs">A</text><text x="1304.19" y="1013.19" textLength="16.26" lengthAdjust="spacingAndGlyphs">2</text><text x="1320.86" y="1013.19" textLength="15.46" lengthAdjust="spacingAndGlyphs">9</text></g>
<rect x="1412.0" y="912.8" width="87.0" height="109.9" fill="#EF8219"/>
<g font-size="27.49" fill="#FFFFFF" stroke="#FFFFFF" stroke-width="1.02"><text x="1433.52" y="1013.19" textLength="21.08" lengthAdjust="spacingAndGlyphs">A</text><text x="1455.37" y="1013.19" textLength="16.26" lengthAdjust="spacingAndGlyphs">2</text><text x="1471.70" y="1013.19" textLength="16.92" lengthAdjust="spacingAndGlyphs">7</text></g>
<rect x="1564.0" y="912.8" width="87.0" height="109.9" fill="#EF8219"/>
<g font-size="27.49" fill="#FFFFFF" stroke="#FFFFFF" stroke-width="1.02"><text x="1586.54" y="1013.19" textLength="21.08" lengthAdjust="spacingAndGlyphs">A</text><text x="1608.39" y="1013.19" textLength="16.26" lengthAdjust="spacingAndGlyphs">2</text><text x="1625.21" y="1013.19" textLength="14.82" lengthAdjust="spacingAndGlyphs">5</text></g>
<rect x="1717.0" y="912.8" width="87.0" height="109.9" fill="#EF8219"/>
<g font-size="27.49" fill="#FFFFFF" stroke="#FFFFFF" stroke-width="1.02"><text x="1739.03" y="1013.19" textLength="21.08" lengthAdjust="spacingAndGlyphs">A</text><text x="1760.88" y="1013.19" textLength="16.26" lengthAdjust="spacingAndGlyphs">2</text><text x="1777.88" y="1013.19" textLength="15.41" lengthAdjust="spacingAndGlyphs">3</text></g>
<rect x="1869.0" y="912.8" width="87.0" height="109.9" fill="#EF8219"/>
<g font-size="27.49" fill="#FFFFFF" stroke="#FFFFFF" stroke-width="1.02"><text x="1897.66" y="1013.19" textLength="21.08" lengthAdjust="spacingAndGlyphs">A</text><text x="1919.51" y="1013.19" textLength="16.26" lengthAdjust="spacingAndGlyphs">2</text><path stroke="none" d="M1936.64,994.01H1944.80V1013.70H1939.09V999.11H1936.64Z"/></g>
<rect x="628.1" y="1086.0" width="87.0" height="110.7" fill="#EF8219"/>
<g font-size="27.49" fill="#FFFFFF" stroke="#FFFFFF" stroke-width="1.02"><text x="649.73" y="1187.19" textLength="21.08" lengthAdjust="spacingAndGlyphs">A</text><text x="671.95" y="1187.19" textLength="15.41" lengthAdjust="spacingAndGlyphs">3</text><text x="687.97" y="1187.19" textLength="16.32" lengthAdjust="spacingAndGlyphs">8</text></g>
<rect x="780.2" y="1086.0" width="87.0" height="110.7" fill="#EF8219"/>
<g font-size="27.49" fill="#FFFFFF" stroke="#FFFFFF" stroke-width="1.02"><text x="802.23" y="1187.19" textLength="21.08" lengthAdjust="spacingAndGlyphs">A</text><text x="824.46" y="1187.19" textLength="15.41" lengthAdjust="spacingAndGlyphs">3</text><text x="840.35" y="1187.19" textLength="16.19" lengthAdjust="spacingAndGlyphs">6</text></g>
<rect x="933.0" y="1086.0" width="87.0" height="110.7" fill="#EF8219"/>
<g font-size="27.49" fill="#FFFFFF" stroke="#FFFFFF" stroke-width="1.02"><text x="953.81" y="1187.19" textLength="21.08" lengthAdjust="spacingAndGlyphs">A</text><text x="976.03" y="1187.19" textLength="15.41" lengthAdjust="spacingAndGlyphs">3</text><text x="992.56" y="1187.19" textLength="15.89" lengthAdjust="spacingAndGlyphs">4</text></g>
<rect x="1108.0" y="1086.0" width="87.0" height="110.7" fill="#EF8219"/>
<g font-size="27.49" fill="#FFFFFF" stroke="#FFFFFF" stroke-width="1.02"><text x="1130.03" y="1187.19" textLength="21.08" lengthAdjust="spacingAndGlyphs">A</text><text x="1152.26" y="1187.19" textLength="15.41" lengthAdjust="spacingAndGlyphs">3</text><text x="1168.20" y="1187.19" textLength="16.26" lengthAdjust="spacingAndGlyphs">2</text></g>
<rect x="1260.0" y="1086.0" width="87.0" height="110.7" fill="#EF8219"/>
<g font-size="27.49" fill="#FFFFFF" stroke="#FFFFFF" stroke-width="1.02"><text x="1281.12" y="1187.19" textLength="21.08" lengthAdjust="spacingAndGlyphs">A</text><text x="1303.34" y="1187.19" textLength="15.41" lengthAdjust="spacingAndGlyphs">3</text><text x="1319.05" y="1187.19" textLength="17.53" lengthAdjust="spacingAndGlyphs">0</text></g>
<rect x="1412.0" y="1086.0" width="87.0" height="110.7" fill="#EF8219"/>
<g font-size="27.49" fill="#FFFFFF" stroke="#FFFFFF" stroke-width="1.02"><text x="1433.32" y="1187.19" textLength="21.08" lengthAdjust="spacingAndGlyphs">A</text><text x="1455.17" y="1187.19" textLength="16.26" lengthAdjust="spacingAndGlyphs">2</text><text x="1471.87" y="1187.19" textLength="16.32" lengthAdjust="spacingAndGlyphs">8</text></g>
<rect x="1564.0" y="1086.0" width="87.0" height="110.7" fill="#EF8219"/>
<g font-size="27.49" fill="#FFFFFF" stroke="#FFFFFF" stroke-width="1.02"><text x="1585.73" y="1187.19" textLength="21.08" lengthAdjust="spacingAndGlyphs">A</text><text x="1607.57" y="1187.19" textLength="16.26" lengthAdjust="spacingAndGlyphs">2</text><text x="1624.15" y="1187.19" textLength="16.19" lengthAdjust="spacingAndGlyphs">6</text></g>
<rect x="1717.0" y="1086.0" width="87.0" height="110.7" fill="#EF8219"/>
<g font-size="27.49" fill="#FFFFFF" stroke="#FFFFFF" stroke-width="1.02"><text x="1737.50" y="1187.19" textLength="21.08" lengthAdjust="spacingAndGlyphs">A</text><text x="1759.35" y="1187.19" textLength="16.26" lengthAdjust="spacingAndGlyphs">2</text><text x="1776.56" y="1187.19" textLength="15.89" lengthAdjust="spacingAndGlyphs">4</text></g>
<rect x="1869.0" y="1086.0" width="87.0" height="110.7" fill="#EF8219"/>
<g font-size="27.49" fill="#FFFFFF" stroke="#FFFFFF" stroke-width="1.02"><text x="1890.73" y="1187.19" textLength="21.08" lengthAdjust="spacingAndGlyphs">A</text><text x="1912.57" y="1187.19" textLength="16.26" lengthAdjust="spacingAndGlyphs">2</text><text x="1929.20" y="1187.19" textLength="16.26" lengthAdjust="spacingAndGlyphs">2</text></g>
<rect x="325.0" y="353.0" width="87.0" height="109.8" fill="#D20D51"/>
<g font-size="27.22" fill="#FFFFFF" stroke="#FFFFFF" stroke-width="1.01"><text x="357.51" y="453.40" textLength="16.98" lengthAdjust="spacingAndGlyphs">B</text><text x="374.72" y="453.40" textLength="17.36" lengthAdjust="spacingAndGlyphs">0</text><path stroke="none" d="M392.82,434.41H400.90V453.90H395.24V439.46H392.82Z"/></g>
<rect x="325.0" y="525.9" width="86.7" height="111.1" fill="#D20D51"/>
<g font-size="27.22" fill="#FFFFFF" stroke="#FFFFFF" stroke-width="1.01"><text x="350.65" y="627.60" textLength="16.98" lengthAdjust="spacingAndGlyphs">B</text><text x="367.85" y="627.60" textLength="17.36" lengthAdjust="spacingAndGlyphs">0</text><text x="385.83" y="627.60" textLength="15.26" lengthAdjust="spacingAndGlyphs">3</text></g>
<rect x="479.0" y="521.0" width="86.7" height="109.7" fill="#D20D51"/>
<g font-size="27.22" fill="#FFFFFF" stroke="#FFFFFF" stroke-width="1.01"><text x="504.34" y="621.30" textLength="16.98" lengthAdjust="spacingAndGlyphs">B</text><text x="521.55" y="621.30" textLength="17.36" lengthAdjust="spacingAndGlyphs">0</text><text x="539.15" y="621.30" textLength="16.10" lengthAdjust="spacingAndGlyphs">2</text></g>
<rect x="324.3" y="719.2" width="86.7" height="109.6" fill="#D20D51"/>
<g font-size="27.22" fill="#FFFFFF" stroke="#FFFFFF" stroke-width="1.01"><text x="350.45" y="819.39" textLength="16.98" lengthAdjust="spacingAndGlyphs">B</text><text x="367.66" y="819.39" textLength="17.36" lengthAdjust="spacingAndGlyphs">0</text><text x="385.45" y="819.39" textLength="14.68" lengthAdjust="spacingAndGlyphs">5</text></g>
<rect x="325.0" y="912.8" width="86.7" height="109.9" fill="#D20D51"/>
<g font-size="27.22" fill="#FFFFFF" stroke="#FFFFFF" stroke-width="1.01"><text x="350.34" y="1013.30" textLength="16.98" lengthAdjust="spacingAndGlyphs">B</text><text x="367.55" y="1013.30" textLength="17.36" lengthAdjust="spacingAndGlyphs">0</text><text x="385.10" y="1013.30" textLength="16.04" lengthAdjust="spacingAndGlyphs">6</text></g>
<rect x="480.2" y="912.8" width="86.3" height="109.9" fill="#D20D51"/>
<g font-size="27.22" fill="#FFFFFF" stroke="#FFFFFF" stroke-width="1.01"><text x="503.93" y="1013.30" textLength="16.98" lengthAdjust="spacingAndGlyphs">B</text><text x="521.14" y="1013.30" textLength="17.36" lengthAdjust="spacingAndGlyphs">0</text><text x="539.32" y="1013.30" textLength="15.73" lengthAdjust="spacingAndGlyphs">4</text></g>
<rect x="325.2" y="1086.0" width="86.4" height="110.7" fill="#D20D51"/>
<g font-size="27.22" fill="#FFFFFF" stroke="#FFFFFF" stroke-width="1.01"><text x="350.04" y="1187.29" textLength="16.98" lengthAdjust="spacingAndGlyphs">B</text><text x="367.25" y="1187.29" textLength="17.36" lengthAdjust="spacingAndGlyphs">0</text><text x="384.56" y="1187.29" textLength="16.76" lengthAdjust="spacingAndGlyphs">7</text></g>
<rect x="476.0" y="1086.0" width="86.8" height="110.7" fill="#D20D51"/>
<g font-size="27.22" fill="#FFFFFF" stroke="#FFFFFF" stroke-width="1.01"><text x="501.04" y="1187.29" textLength="16.98" lengthAdjust="spacingAndGlyphs">B</text><text x="518.25" y="1187.29" textLength="17.36" lengthAdjust="spacingAndGlyphs">0</text><text x="535.93" y="1187.29" textLength="16.16" lengthAdjust="spacingAndGlyphs">8</text></g>
<rect x="615.2" y="512.5" width="107.6" height="130.9" fill="#44B5A1" stroke="#FFFFFF" stroke-width="2"/>
<line x1="614.2" y1="578.1" x2="723.8" y2="578.1" stroke="#FFFFFF" stroke-width="2.2"/>
<g font-size="26.14" fill="#FFFFFF" stroke="#FFFFFF" stroke-width="0.97"><text x="624.16" y="570.41" textLength="21.64" lengthAdjust="spacingAndGlyphs">C</text><path stroke="none" d="M646.92,552.18H654.68V570.90H649.25V557.03H646.92Z"/><text x="657.22" y="570.41" textLength="16.10" lengthAdjust="spacingAndGlyphs">7</text></g>
<g font-size="26.14" fill="#FFFFFF" stroke="#FFFFFF" stroke-width="0.97"><text x="624.16" y="604.91" textLength="21.64" lengthAdjust="spacingAndGlyphs">C</text><path stroke="none" d="M646.92,586.68H654.68V605.40H649.25V591.53H646.92Z"/><text x="657.58" y="604.91" textLength="15.52" lengthAdjust="spacingAndGlyphs">8</text></g>
<rect x="611.1" y="902.3" width="108.4" height="130.6" fill="#44B5A1" stroke="#FFFFFF" stroke-width="2"/>
<line x1="610.1" y1="968.0" x2="720.5" y2="968.0" stroke="#FFFFFF" stroke-width="2.2"/>
<g font-size="26.14" fill="#FFFFFF" stroke="#FFFFFF" stroke-width="0.97"><text x="620.06" y="957.72" textLength="21.64" lengthAdjust="spacingAndGlyphs">C</text><path stroke="none" d="M642.82,939.48H650.58V958.20H645.15V944.33H642.82Z"/><text x="653.45" y="957.72" textLength="14.70" lengthAdjust="spacingAndGlyphs">9</text></g>
<g font-size="26.14" fill="#FFFFFF" stroke="#FFFFFF" stroke-width="0.97"><text x="620.06" y="998.41" textLength="21.64" lengthAdjust="spacingAndGlyphs">C</text><text x="642.34" y="998.41" textLength="15.46" lengthAdjust="spacingAndGlyphs">2</text><text x="657.93" y="998.41" textLength="16.67" lengthAdjust="spacingAndGlyphs">0</text></g>
<rect x="660.0" y="708.8" width="108.1" height="131.4" fill="#44B5A1" stroke="#FFFFFF" stroke-width="2"/>
<line x1="659.0" y1="774.6" x2="769.1" y2="774.6" stroke="#FFFFFF" stroke-width="2.2"/>
<g font-size="26.14" fill="#FFFFFF" stroke="#FFFFFF" stroke-width="0.97"><text x="668.96" y="763.41" textLength="21.64" lengthAdjust="spacingAndGlyphs">C</text><path stroke="none" d="M691.72,745.18H699.48V763.90H694.05V750.03H691.72Z"/><text x="702.48" y="763.41" textLength="14.09" lengthAdjust="spacingAndGlyphs">5</text></g>
<g font-size="26.14" fill="#FFFFFF" stroke="#FFFFFF" stroke-width="0.97"><text x="668.96" y="804.41" textLength="21.64" lengthAdjust="spacingAndGlyphs">C</text><path stroke="none" d="M691.72,786.18H699.48V804.90H694.05V791.03H691.72Z"/><text x="702.25" y="804.41" textLength="15.40" lengthAdjust="spacingAndGlyphs">6</text></g>
<rect x="829.9" y="708.8" width="108.1" height="131.4" fill="#44B5A1" stroke="#FFFFFF" stroke-width="2"/>
<line x1="828.9" y1="774.6" x2="939.0" y2="774.6" stroke="#FFFFFF" stroke-width="2.2"/>
<g font-size="26.14" fill="#FFFFFF" stroke="#FFFFFF" stroke-width="0.97"><text x="838.86" y="763.41" textLength="21.64" lengthAdjust="spacingAndGlyphs">C</text><path stroke="none" d="M861.62,745.18H869.38V763.90H863.95V750.03H861.62Z"/><text x="872.56" y="763.41" textLength="14.65" lengthAdjust="spacingAndGlyphs">3</text></g>
<g font-size="26.14" fill="#FFFFFF" stroke="#FFFFFF" stroke-width="0.97"><text x="838.86" y="804.41" textLength="21.64" lengthAdjust="spacingAndGlyphs">C</text><path stroke="none" d="M861.62,786.18H869.38V804.90H863.95V791.03H861.62Z"/><text x="872.75" y="804.41" textLength="15.11" lengthAdjust="spacingAndGlyphs">4</text></g>
<rect x="999.8" y="708.8" width="108.1" height="131.4" fill="#44B5A1" stroke="#FFFFFF" stroke-width="2"/>
<line x1="998.8" y1="774.6" x2="1108.9" y2="774.6" stroke="#FFFFFF" stroke-width="2.2"/>
<g font-size="26.14" fill="#FFFFFF" stroke="#FFFFFF" stroke-width="0.97"><text x="1008.76" y="763.41" textLength="21.64" lengthAdjust="spacingAndGlyphs">C</text><path stroke="none" d="M1031.52,745.18H1039.28V763.90H1033.85V750.03H1031.52Z"/><path stroke="none" d="M1042.58,745.18H1050.34V763.90H1044.90V750.03H1042.58Z"/></g>
<g font-size="26.14" fill="#FFFFFF" stroke="#FFFFFF" stroke-width="0.97"><text x="1008.76" y="804.41" textLength="21.64" lengthAdjust="spacingAndGlyphs">C</text><path stroke="none" d="M1031.52,786.18H1039.28V804.90H1033.85V791.03H1031.52Z"/><text x="1042.10" y="804.41" textLength="15.46" lengthAdjust="spacingAndGlyphs">2</text></g>
<rect x="1168.6" y="708.8" width="108.1" height="131.4" fill="#44B5A1" stroke="#FFFFFF" stroke-width="2"/>
<line x1="1167.6" y1="774.6" x2="1277.7" y2="774.6" stroke="#FFFFFF" stroke-width="2.2"/>
<g font-size="26.14" fill="#FFFFFF" stroke="#FFFFFF" stroke-width="0.97"><text x="1177.56" y="763.41" textLength="21.64" lengthAdjust="spacingAndGlyphs">C</text><text x="1199.89" y="763.41" textLength="14.70" lengthAdjust="spacingAndGlyphs">9</text></g>
<g font-size="26.14" fill="#FFFFFF" stroke="#FFFFFF" stroke-width="0.97"><text x="1177.56" y="804.41" textLength="21.64" lengthAdjust="spacingAndGlyphs">C</text><path stroke="none" d="M1200.32,786.18H1208.08V804.90H1202.65V791.03H1200.32Z"/><text x="1210.68" y="804.41" textLength="16.67" lengthAdjust="spacingAndGlyphs">0</text></g>
<rect x="1338.6" y="708.8" width="108.1" height="131.4" fill="#44B5A1" stroke="#FFFFFF" stroke-width="2"/>
<line x1="1337.6" y1="774.6" x2="1447.7" y2="774.6" stroke="#FFFFFF" stroke-width="2.2"/>
<g font-size="26.14" fill="#FFFFFF" stroke="#FFFFFF" stroke-width="0.97"><text x="1347.56" y="763.41" textLength="21.64" lengthAdjust="spacingAndGlyphs">C</text><text x="1369.56" y="763.41" textLength="16.10" lengthAdjust="spacingAndGlyphs">7</text></g>
<g font-size="26.14" fill="#FFFFFF" stroke="#FFFFFF" stroke-width="0.97"><text x="1347.56" y="804.41" textLength="21.64" lengthAdjust="spacingAndGlyphs">C</text><text x="1369.92" y="804.41" textLength="15.52" lengthAdjust="spacingAndGlyphs">8</text></g>
<rect x="1508.9" y="708.8" width="108.1" height="131.4" fill="#44B5A1" stroke="#FFFFFF" stroke-width="2"/>
<line x1="1507.9" y1="774.6" x2="1618.0" y2="774.6" stroke="#FFFFFF" stroke-width="2.2"/>
<g font-size="26.14" fill="#FFFFFF" stroke="#FFFFFF" stroke-width="0.97"><text x="1517.86" y="763.41" textLength="21.64" lengthAdjust="spacingAndGlyphs">C</text><text x="1540.32" y="763.41" textLength="14.09" lengthAdjust="spacingAndGlyphs">5</text></g>
<g font-size="26.14" fill="#FFFFFF" stroke="#FFFFFF" stroke-width="0.97"><text x="1517.86" y="804.41" textLength="21.64" lengthAdjust="spacingAndGlyphs">C</text><text x="1540.09" y="804.41" textLength="15.40" lengthAdjust="spacingAndGlyphs">6</text></g>
<rect x="1678.8" y="708.8" width="108.1" height="131.4" fill="#44B5A1" stroke="#FFFFFF" stroke-width="2"/>
<line x1="1677.8" y1="774.6" x2="1787.9" y2="774.6" stroke="#FFFFFF" stroke-width="2.2"/>
<g font-size="26.14" fill="#FFFFFF" stroke="#FFFFFF" stroke-width="0.97"><text x="1687.76" y="763.41" textLength="21.64" lengthAdjust="spacingAndGlyphs">C</text><text x="1710.40" y="763.41" textLength="14.65" lengthAdjust="spacingAndGlyphs">3</text></g>
<g font-size="26.14" fill="#FFFFFF" stroke="#FFFFFF" stroke-width="0.97"><text x="1687.76" y="804.41" textLength="21.64" lengthAdjust="spacingAndGlyphs">C</text><text x="1710.59" y="804.41" textLength="15.11" lengthAdjust="spacingAndGlyphs">4</text></g>
<rect x="1848.0" y="708.8" width="108.1" height="131.4" fill="#44B5A1" stroke="#FFFFFF" stroke-width="2"/>
<line x1="1847.0" y1="774.6" x2="1957.1" y2="774.6" stroke="#FFFFFF" stroke-width="2.2"/>
<g font-size="26.14" fill="#FFFFFF" stroke="#FFFFFF" stroke-width="0.97"><text x="1856.96" y="763.41" textLength="21.64" lengthAdjust="spacingAndGlyphs">C</text><path stroke="none" d="M1879.72,745.18H1887.48V763.90H1882.05V750.03H1879.72Z"/></g>
<g font-size="26.14" fill="#FFFFFF" stroke="#FFFFFF" stroke-width="0.97"><text x="1856.96" y="804.41" textLength="21.64" lengthAdjust="spacingAndGlyphs">C</text><text x="1879.24" y="804.41" textLength="15.46" lengthAdjust="spacingAndGlyphs">2</text></g>
<rect x="2573" y="680" width="87.8" height="108.7" fill="#7C3B94"/>
<text x="2616.6" y="730.7" font-size="17.5" text-anchor="middle" fill="#FFFFFF" textLength="71" lengthAdjust="spacingAndGlyphs">ZONA DE</text>
<text x="2616.6" y="749" font-size="17.5" text-anchor="middle" fill="#FFFFFF" textLength="71" lengthAdjust="spacingAndGlyphs">PREMIOS</text>
<g transform="translate(447.8,617.0) rotate(-90)"><text x="0" y="6.4" font-size="18.16" fill="#D20D51" stroke="#D20D51" stroke-width="0.8" textLength="180.0" lengthAdjust="spacingAndGlyphs">ZONA FINANCIERA</text></g>
<g transform="translate(447.3,1112.8) rotate(-90)"><text x="0" y="6.4" font-size="18.16" fill="#D20D51" stroke="#D20D51" stroke-width="0.8" textLength="181.1" lengthAdjust="spacingAndGlyphs">ZONA FINANCIERA</text></g>
<text x="2646.8" y="410.5" font-size="18.16" text-anchor="end" fill="#E3131B" stroke="#E3131B" stroke-width="0.7" textLength="58.2" lengthAdjust="spacingAndGlyphs">ZONA</text>
<text x="2646.8" y="433.0" font-size="18.16" text-anchor="end" fill="#E3131B" stroke="#E3131B" stroke-width="0.7" textLength="73.3" lengthAdjust="spacingAndGlyphs">HOGAR</text>
<text x="2738.7" y="884.7" font-size="18.72" text-anchor="end" fill="#E3131B" stroke="#E3131B" stroke-width="0.7" textLength="57.7" lengthAdjust="spacingAndGlyphs">ZONA</text>
<text x="2738.7" y="907.1" font-size="18.72" text-anchor="end" fill="#E3131B" stroke="#E3131B" stroke-width="0.7" textLength="72.7" lengthAdjust="spacingAndGlyphs">HOGAR</text>
<text x="2646.8" y="1098.0" font-size="18.72" text-anchor="end" fill="#E3131B" stroke="#E3131B" stroke-width="0.7" textLength="58.2" lengthAdjust="spacingAndGlyphs">ZONA</text>
<text x="2646.8" y="1120.0" font-size="18.72" text-anchor="end" fill="#E3131B" stroke="#E3131B" stroke-width="0.7" textLength="73.3" lengthAdjust="spacingAndGlyphs">HOGAR</text>
<text x="713.7" y="1573.0" font-size="16.45" text-anchor="middle" fill="#1F2A4D" stroke="#1F2A4D" stroke-width="0.35" textLength="87.0" lengthAdjust="spacingAndGlyphs">SALIDA DE</text>
<text x="713.7" y="1592.6" font-size="16.45" text-anchor="middle" fill="#1F2A4D" stroke="#1F2A4D" stroke-width="0.35" textLength="113.2" lengthAdjust="spacingAndGlyphs">EMERGENCIA</text>
<text x="1689.3" y="1573.0" font-size="16.45" text-anchor="middle" fill="#1F2A4D" stroke="#1F2A4D" stroke-width="0.35" textLength="87.0" lengthAdjust="spacingAndGlyphs">SALIDA DE</text>
<text x="1689.3" y="1592.6" font-size="16.45" text-anchor="middle" fill="#1F2A4D" stroke="#1F2A4D" stroke-width="0.35" textLength="113.2" lengthAdjust="spacingAndGlyphs">EMERGENCIA</text>
<text x="17.2" y="1477.5" font-size="16.45" text-anchor="start" fill="#1F2A4D" stroke="#1F2A4D" stroke-width="0.35" textLength="84.1" lengthAdjust="spacingAndGlyphs">SALIDA DE</text>
<text x="17.2" y="1496.3" font-size="16.45" text-anchor="start" fill="#1F2A4D" stroke="#1F2A4D" stroke-width="0.35" textLength="110.7" lengthAdjust="spacingAndGlyphs">EMERGENCIA</text>
<text x="17.2" y="59.0" font-size="16.17" text-anchor="start" fill="#1F2A4D" stroke="#1F2A4D" stroke-width="0.35" textLength="74.7" lengthAdjust="spacingAndGlyphs">INGRESO</text>
<text x="17.2" y="78.3" font-size="16.17" text-anchor="start" fill="#1F2A4D" stroke="#1F2A4D" stroke-width="0.35" textLength="88.8" lengthAdjust="spacingAndGlyphs">COMEDOR</text>
<g transform="translate(2366.3,115.8) rotate(26)">
<text x="0.0" y="-3.0" font-size="17.59" text-anchor="middle" fill="#1F2A4D" stroke="#1F2A4D" stroke-width="0.35" textLength="86.8" lengthAdjust="spacingAndGlyphs">SALIDA DE</text>
<text x="0.0" y="16.0" font-size="17.59" text-anchor="middle" fill="#1F2A4D" stroke="#1F2A4D" stroke-width="0.35" textLength="112.4" lengthAdjust="spacingAndGlyphs">EMERGENCIA</text>
</g>
<g transform="translate(2391.7,1521.3) rotate(-21)">
<text x="0.0" y="-3.0" font-size="17.59" text-anchor="middle" fill="#1F2A4D" stroke="#1F2A4D" stroke-width="0.35" textLength="86.8" lengthAdjust="spacingAndGlyphs">SALIDA DE</text>
<text x="0.0" y="16.0" font-size="17.59" text-anchor="middle" fill="#1F2A4D" stroke="#1F2A4D" stroke-width="0.35" textLength="112.4" lengthAdjust="spacingAndGlyphs">EMERGENCIA</text>
</g>
<polygon points="1020.0,12.0 1020.0,8.5 1028.5,0.0 1031.5,0.0 1040.0,8.5 1040.0,12.0" fill="#E3231F"/>
<polygon points="1044.0,12.0 1044.0,8.5 1052.5,0.0 1055.5,0.0 1064.0,8.5 1064.0,12.0" fill="#E3231F"/>
<polygon points="0.0,50.0 11.9,41.5 11.9,61.4" fill="#6BB535"/>
<polygon points="0.0,66.4 11.9,76.4 0.0,86.4" fill="#E3231F"/>
<polygon points="0.0,1468.6 12.0,1458.1 12.0,1478.0" fill="#E3231F"/>
<polygon points="0.0,1493.0 12.0,1483.0 12.0,1503.0" fill="#E3231F"/>
<polygon points="692.0,1532.0 712.0,1532.0 702.0,1543.4" fill="#E3231F"/>
<polygon points="716.0,1532.0 736.0,1532.0 726.0,1543.4" fill="#E3231F"/>
<polygon points="1669.4,1532.0 1689.4,1532.0 1679.4,1543.4" fill="#E3231F"/>
<polygon points="1695.0,1532.0 1715.0,1532.0 1705.0,1543.4" fill="#E3231F"/>
<polygon points="2359.0,58.2 2372.2,54.3 2373.8,69.1" fill="#E3231F"/>
<polygon points="2376.9,71.4 2390.0,67.1 2391.6,81.5" fill="#E3231F"/>
<polygon points="2828.7,690.8 2840.7,681.0 2840.7,700.6" fill="#6BB535"/>
<polygon points="2829.8,715.2 2842.9,705.0 2842.9,725.0" fill="#6BB535"/>
<polygon points="2771.0,1084.7 2786.0,1080.3 2776.9,1097.5" fill="#6BB535"/>
<polygon points="2766.0,1098.0 2771.8,1110.1 2757.3,1116.0" fill="#E3231F"/>
<polygon points="2352.0,1483.7 2369.1,1477.1 2363.7,1490.7" fill="#E3231F"/>
<polygon points="2373.0,1474.3 2390.0,1468.4 2385.4,1482.9" fill="#E3231F"/>
<g transform="translate(1034.0,184.0) scale(1.0)"><g fill="none" stroke="#EF8219" stroke-width="3" stroke-linejoin="round">
<path d="M34.2,13.5 V5.7 A4.1,4.3 0 0 1 42.4,5.7 V13.5"/>
<path d="M7.4,30 V17.4 Q7.4,14.4 10.4,14.4 H49.4 Q52.4,14.4 52.4,17.4 V30"/>
<rect x="1.5" y="20.4" width="5.9" height="15" rx="2.9"/>
<rect x="52.4" y="21.2" width="4.8" height="14" rx="2.4"/>
<rect x="41.5" y="31" width="4.6" height="14.5"/>
</g>
<g fill="#EF8219">
<path fill-rule="evenodd" d="M29.2,27 V17 Q29.2,14 32.2,14 H44.2 Q47.2,14 47.2,17 V27 Z M32.4,15.6 H43.6 V18.2 H40.9 V26.5 H35.5 V18.2 H32.4 Z"/>
<rect x="7.4" y="29.9" width="45" height="4.1"/>
<rect x="3" y="34.9" width="53" height="3.1"/>
<polygon points="20.2,30 24,27 47.2,27 47.2,30"/>
<polygon points="3.1,37.8 11.7,37.8 7.3,45 3.1,45"/>
<polygon points="47.5,37.8 56.7,37.8 56.9,42.5 55.8,45 51.5,45"/>
<rect x="39.1" y="45.9" width="9" height="4.1" rx="1.5"/>
</g></g>
<g transform="translate(196.2,743.6) scale(0.72)"><g fill="none" stroke="#EF8219" stroke-width="3" stroke-linejoin="round">
<path d="M34.2,13.5 V5.7 A4.1,4.3 0 0 1 42.4,5.7 V13.5"/>
<path d="M7.4,30 V17.4 Q7.4,14.4 10.4,14.4 H49.4 Q52.4,14.4 52.4,17.4 V30"/>
<rect x="1.5" y="20.4" width="5.9" height="15" rx="2.9"/>
<rect x="52.4" y="21.2" width="4.8" height="14" rx="2.4"/>
<rect x="41.5" y="31" width="4.6" height="14.5"/>
</g>
<g fill="#EF8219">
<path fill-rule="evenodd" d="M29.2,27 V17 Q29.2,14 32.2,14 H44.2 Q47.2,14 47.2,17 V27 Z M32.4,15.6 H43.6 V18.2 H40.9 V26.5 H35.5 V18.2 H32.4 Z"/>
<rect x="7.4" y="29.9" width="45" height="4.1"/>
<rect x="3" y="34.9" width="53" height="3.1"/>
<polygon points="20.2,30 24,27 47.2,27 47.2,30"/>
<polygon points="3.1,37.8 11.7,37.8 7.3,45 3.1,45"/>
<polygon points="47.5,37.8 56.7,37.8 56.9,42.5 55.8,45 51.5,45"/>
<rect x="39.1" y="45.9" width="9" height="4.1" rx="1.5"/>
</g></g>
<g transform="translate(1034.0,1308.1) scale(1.0)"><g fill="none" stroke="#EF8219" stroke-width="3" stroke-linejoin="round">
<path d="M34.2,13.5 V5.7 A4.1,4.3 0 0 1 42.4,5.7 V13.5"/>
<path d="M7.4,30 V17.4 Q7.4,14.4 10.4,14.4 H49.4 Q52.4,14.4 52.4,17.4 V30"/>
<rect x="1.5" y="20.4" width="5.9" height="15" rx="2.9"/>
<rect x="52.4" y="21.2" width="4.8" height="14" rx="2.4"/>
<rect x="41.5" y="31" width="4.6" height="14.5"/>
</g>
<g fill="#EF8219">
<path fill-rule="evenodd" d="M29.2,27 V17 Q29.2,14 32.2,14 H44.2 Q47.2,14 47.2,17 V27 Z M32.4,15.6 H43.6 V18.2 H40.9 V26.5 H35.5 V18.2 H32.4 Z"/>
<rect x="7.4" y="29.9" width="45" height="4.1"/>
<rect x="3" y="34.9" width="53" height="3.1"/>
<polygon points="20.2,30 24,27 47.2,27 47.2,30"/>
<polygon points="3.1,37.8 11.7,37.8 7.3,45 3.1,45"/>
<polygon points="47.5,37.8 56.7,37.8 56.9,42.5 55.8,45 51.5,45"/>
<rect x="39.1" y="45.9" width="9" height="4.1" rx="1.5"/>
</g></g>
<g transform="translate(2588.4,527.0) scale(0.71)"><g fill="none" stroke="#EF8219" stroke-width="3" stroke-linejoin="round">
<path d="M34.2,13.5 V5.7 A4.1,4.3 0 0 1 42.4,5.7 V13.5"/>
<path d="M7.4,30 V17.4 Q7.4,14.4 10.4,14.4 H49.4 Q52.4,14.4 52.4,17.4 V30"/>
<rect x="1.5" y="20.4" width="5.9" height="15" rx="2.9"/>
<rect x="52.4" y="21.2" width="4.8" height="14" rx="2.4"/>
<rect x="41.5" y="31" width="4.6" height="14.5"/>
</g>
<g fill="#EF8219">
<path fill-rule="evenodd" d="M29.2,27 V17 Q29.2,14 32.2,14 H44.2 Q47.2,14 47.2,17 V27 Z M32.4,15.6 H43.6 V18.2 H40.9 V26.5 H35.5 V18.2 H32.4 Z"/>
<rect x="7.4" y="29.9" width="45" height="4.1"/>
<rect x="3" y="34.9" width="53" height="3.1"/>
<polygon points="20.2,30 24,27 47.2,27 47.2,30"/>
<polygon points="3.1,37.8 11.7,37.8 7.3,45 3.1,45"/>
<polygon points="47.5,37.8 56.7,37.8 56.9,42.5 55.8,45 51.5,45"/>
<rect x="39.1" y="45.9" width="9" height="4.1" rx="1.5"/>
</g></g>
<g transform="translate(2592.0,926.7) scale(0.72)"><g fill="none" stroke="#EF8219" stroke-width="3" stroke-linejoin="round">
<path d="M34.2,13.5 V5.7 A4.1,4.3 0 0 1 42.4,5.7 V13.5"/>
<path d="M7.4,30 V17.4 Q7.4,14.4 10.4,14.4 H49.4 Q52.4,14.4 52.4,17.4 V30"/>
<rect x="1.5" y="20.4" width="5.9" height="15" rx="2.9"/>
<rect x="52.4" y="21.2" width="4.8" height="14" rx="2.4"/>
<rect x="41.5" y="31" width="4.6" height="14.5"/>
</g>
<g fill="#EF8219">
<path fill-rule="evenodd" d="M29.2,27 V17 Q29.2,14 32.2,14 H44.2 Q47.2,14 47.2,17 V27 Z M32.4,15.6 H43.6 V18.2 H40.9 V26.5 H35.5 V18.2 H32.4 Z"/>
<rect x="7.4" y="29.9" width="45" height="4.1"/>
<rect x="3" y="34.9" width="53" height="3.1"/>
<polygon points="20.2,30 24,27 47.2,27 47.2,30"/>
<polygon points="3.1,37.8 11.7,37.8 7.3,45 3.1,45"/>
<polygon points="47.5,37.8 56.7,37.8 56.9,42.5 55.8,45 51.5,45"/>
<rect x="39.1" y="45.9" width="9" height="4.1" rx="1.5"/>
</g></g>
</svg></body></html>
